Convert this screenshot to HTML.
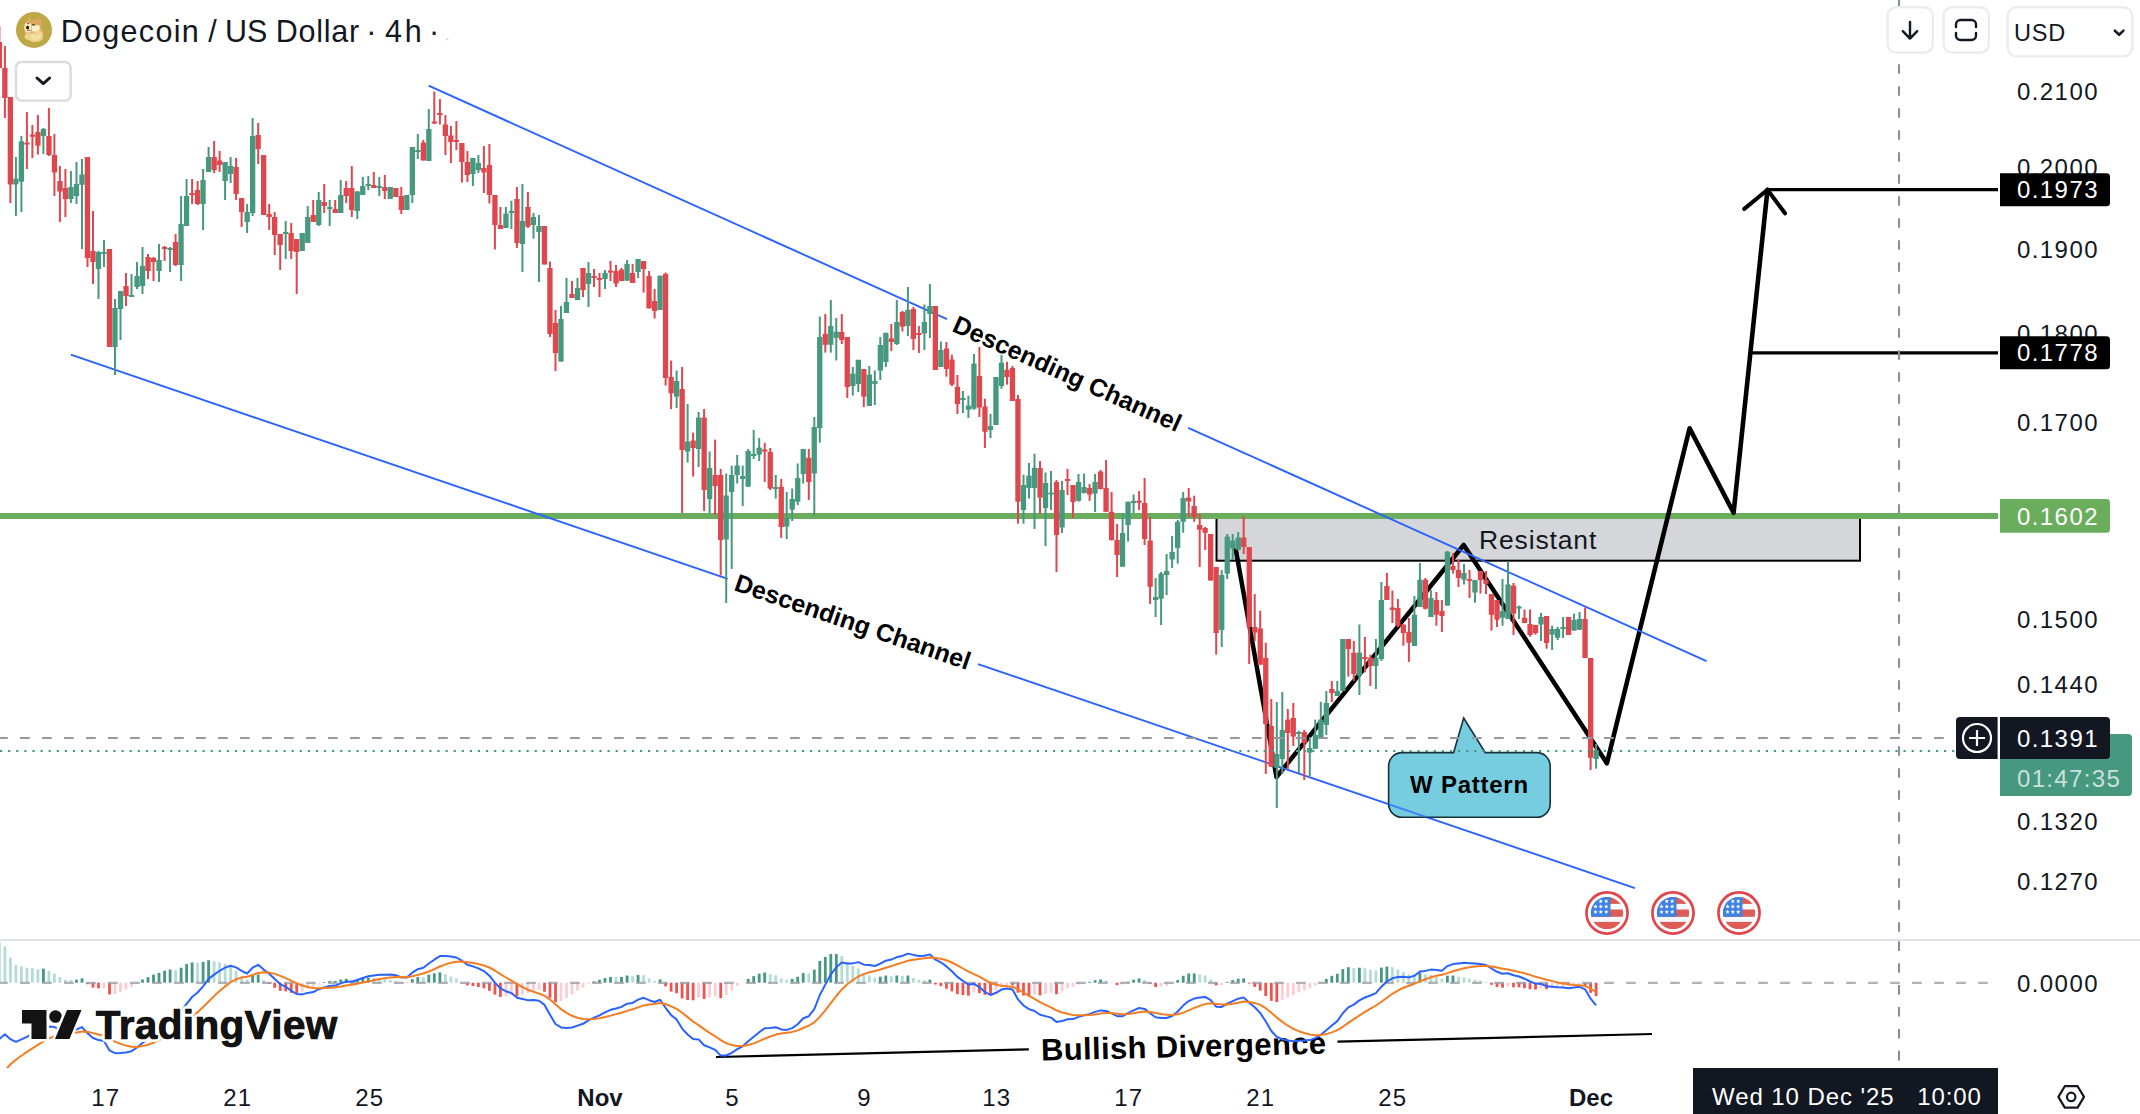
<!DOCTYPE html>
<html><head><meta charset="utf-8"><title>Dogecoin / US Dollar</title>
<style>html,body{margin:0;padding:0;background:#fff;width:2140px;height:1114px;overflow:hidden}</style>
</head><body>
<svg width="2140" height="1114" viewBox="0 0 2140 1114" style="position:absolute;left:0;top:0;display:block" font-family="'Liberation Sans', Arial, sans-serif">
<rect width="2140" height="1114" fill="#fff"/>
<rect x="0" y="939" width="2140" height="2" fill="#e0e3eb"/>
<rect x="1216.5" y="516" width="643.5" height="44.7" fill="#d5d6d9" stroke="#000" stroke-width="2"/>
<rect x="0" y="513" width="1998" height="6" fill="#6aae5d"/>
<polyline points="1235.5,548 1276.5,777 1463.7,545 1606.9,763.3" fill="none" stroke="#000" stroke-width="4.5" stroke-linejoin="round" stroke-linecap="butt"/>
<polyline points="1606.9,763.3 1689.6,428.3 1733.6,512.8 1767.5,189.7" fill="none" stroke="#000" stroke-width="4.6" stroke-linejoin="round" stroke-linecap="round"/>
<polyline points="1744.3,208.9 1767.5,189.7 1785,213.3" fill="none" stroke="#000" stroke-width="4" stroke-linejoin="round" stroke-linecap="round"/>
<line x1="1767.5" y1="189.7" x2="1998" y2="189.7" stroke="#000" stroke-width="3.2"/>
<line x1="1749" y1="352.8" x2="1998" y2="352.8" stroke="#000" stroke-width="3.2"/>
<line x1="428.6" y1="85.7" x2="946.9" y2="319.1" stroke="#2962ff" stroke-width="1.9" />
<line x1="1188.2" y1="427.8" x2="1706.5" y2="661.2" stroke="#2962ff" stroke-width="1.9" />
<line x1="70.8" y1="354.7" x2="727.7" y2="578.8" stroke="#2962ff" stroke-width="1.9" />
<line x1="978.0" y1="664.1" x2="1634.9" y2="888.2" stroke="#2962ff" stroke-width="1.9" />
<text x="1067.5" y="373.4" transform="rotate(24.24 1067.5 373.4)" font-size="25" font-weight="bold" text-anchor="middle" letter-spacing="0" fill="#000" dominant-baseline="central">Descending Channel</text>
<text x="852.9" y="621.5" transform="rotate(18.83 852.9 621.5)" font-size="25" font-weight="bold" text-anchor="middle" letter-spacing="0" fill="#000" dominant-baseline="central">Descending Channel</text>
<path d="M1402.1,752.6 H1453.6 L1463.7,718 L1485.3,752.6 H1536.7 a13.5,13.5 0 0 1 13.5,13.5 V803.8 a13.5,13.5 0 0 1 -13.5,13.5 H1402.1 a13.5,13.5 0 0 1 -13.5,-13.5 V766.1 a13.5,13.5 0 0 1 13.5,-13.5 Z" fill="#75cddf" fill-opacity="1" stroke="#16323a" stroke-width="1.6" stroke-linejoin="miter"/>
<clipPath id="cc"><rect x="1388.6" y="752.6" width="161.6" height="64.7" rx="13.5"/></clipPath>
<line x1="70.8" y1="354.7" x2="1634.9" y2="888.2" stroke="#2962ff" stroke-opacity="0.72" stroke-width="1.9" clip-path="url(#cc)"/>
<text x="1469.5" y="793" font-size="24" font-weight="bold" text-anchor="middle" letter-spacing="0.75" fill="#000">W Pattern</text>
<text x="1479" y="548.9" font-size="26.5" letter-spacing="0.85" fill="#131722">Resistant</text>
<rect x="-1.6" y="26.0" width="2" height="42.0" fill="#de474d"/>
<rect x="-3.3" y="42.0" width="5.3" height="26.0" fill="#de474d"/>
<rect x="3.9" y="46.0" width="2" height="72.0" fill="#de474d"/>
<rect x="2.2" y="68.0" width="5.3" height="30.0" fill="#de474d"/>
<rect x="9.4" y="97.0" width="2" height="106.0" fill="#de474d"/>
<rect x="7.7" y="97.0" width="5.3" height="87.5" fill="#de474d"/>
<rect x="14.9" y="157.0" width="2" height="59.0" fill="#46987f"/>
<rect x="13.2" y="178.6" width="5.3" height="5.8" fill="#46987f"/>
<rect x="20.4" y="136.0" width="2" height="76.0" fill="#46987f"/>
<rect x="18.7" y="141.4" width="5.3" height="40.3" fill="#46987f"/>
<rect x="25.9" y="112.0" width="2" height="57.0" fill="#de474d"/>
<rect x="24.3" y="142.5" width="5.3" height="2.0" fill="#de474d"/>
<rect x="31.4" y="125.0" width="2" height="33.0" fill="#de474d"/>
<rect x="29.8" y="134.7" width="5.3" height="2.0" fill="#de474d"/>
<rect x="36.9" y="115.0" width="2" height="39.5" fill="#de474d"/>
<rect x="35.3" y="132.0" width="5.3" height="13.6" fill="#de474d"/>
<rect x="42.4" y="128.0" width="2" height="26.0" fill="#46987f"/>
<rect x="40.8" y="129.0" width="5.3" height="7.0" fill="#46987f"/>
<rect x="47.9" y="108.0" width="2" height="48.0" fill="#de474d"/>
<rect x="46.3" y="136.0" width="5.3" height="19.0" fill="#de474d"/>
<rect x="53.4" y="134.0" width="2" height="62.0" fill="#de474d"/>
<rect x="51.8" y="155.0" width="5.3" height="17.4" fill="#de474d"/>
<rect x="58.9" y="166.0" width="2" height="56.0" fill="#de474d"/>
<rect x="57.3" y="181.0" width="5.3" height="10.6" fill="#de474d"/>
<rect x="64.4" y="169.0" width="2" height="48.0" fill="#de474d"/>
<rect x="62.8" y="188.0" width="5.3" height="11.0" fill="#de474d"/>
<rect x="69.9" y="171.0" width="2" height="32.0" fill="#46987f"/>
<rect x="68.3" y="187.0" width="5.3" height="12.0" fill="#46987f"/>
<rect x="75.5" y="162.0" width="2" height="42.0" fill="#46987f"/>
<rect x="73.8" y="184.0" width="5.3" height="12.0" fill="#46987f"/>
<rect x="81.0" y="159.0" width="2" height="90.0" fill="#46987f"/>
<rect x="79.3" y="174.5" width="5.3" height="10.3" fill="#46987f"/>
<rect x="86.5" y="157.0" width="2" height="110.0" fill="#de474d"/>
<rect x="84.8" y="157.0" width="5.3" height="101.0" fill="#de474d"/>
<rect x="92.0" y="211.0" width="2" height="73.0" fill="#de474d"/>
<rect x="90.3" y="251.0" width="5.3" height="11.0" fill="#de474d"/>
<rect x="97.5" y="251.0" width="2" height="48.0" fill="#46987f"/>
<rect x="95.8" y="252.0" width="5.3" height="17.0" fill="#46987f"/>
<rect x="103.0" y="240.0" width="2" height="27.0" fill="#46987f"/>
<rect x="101.3" y="252.0" width="5.3" height="2.0" fill="#46987f"/>
<rect x="108.5" y="249.0" width="2" height="98.0" fill="#de474d"/>
<rect x="106.8" y="249.0" width="5.3" height="98.0" fill="#de474d"/>
<rect x="114.0" y="299.0" width="2" height="76.0" fill="#46987f"/>
<rect x="112.3" y="308.0" width="5.3" height="39.0" fill="#46987f"/>
<rect x="119.5" y="291.0" width="2" height="49.0" fill="#46987f"/>
<rect x="117.9" y="291.0" width="5.3" height="18.0" fill="#46987f"/>
<rect x="125.0" y="273.0" width="2" height="33.0" fill="#de474d"/>
<rect x="123.4" y="286.0" width="5.3" height="10.0" fill="#de474d"/>
<rect x="130.5" y="274.0" width="2" height="23.0" fill="#46987f"/>
<rect x="128.9" y="295.0" width="5.3" height="2.0" fill="#46987f"/>
<rect x="136.0" y="262.0" width="2" height="27.0" fill="#46987f"/>
<rect x="134.4" y="276.0" width="5.3" height="11.0" fill="#46987f"/>
<rect x="141.5" y="247.0" width="2" height="47.0" fill="#46987f"/>
<rect x="139.9" y="266.0" width="5.3" height="20.0" fill="#46987f"/>
<rect x="147.0" y="254.0" width="2" height="25.0" fill="#de474d"/>
<rect x="145.4" y="257.0" width="5.3" height="14.0" fill="#de474d"/>
<rect x="152.5" y="257.0" width="2" height="24.0" fill="#de474d"/>
<rect x="150.9" y="258.0" width="5.3" height="4.0" fill="#de474d"/>
<rect x="158.0" y="244.0" width="2" height="38.0" fill="#46987f"/>
<rect x="156.4" y="260.0" width="5.3" height="11.0" fill="#46987f"/>
<rect x="163.6" y="246.0" width="2" height="15.0" fill="#de474d"/>
<rect x="161.9" y="247.0" width="5.3" height="2.0" fill="#de474d"/>
<rect x="169.1" y="247.0" width="2" height="25.0" fill="#46987f"/>
<rect x="167.4" y="248.0" width="5.3" height="2.0" fill="#46987f"/>
<rect x="174.6" y="234.0" width="2" height="32.0" fill="#de474d"/>
<rect x="172.9" y="242.0" width="5.3" height="23.0" fill="#de474d"/>
<rect x="180.1" y="196.0" width="2" height="85.0" fill="#46987f"/>
<rect x="178.4" y="224.0" width="5.3" height="41.0" fill="#46987f"/>
<rect x="185.6" y="179.0" width="2" height="47.0" fill="#46987f"/>
<rect x="183.9" y="196.0" width="5.3" height="30.0" fill="#46987f"/>
<rect x="191.1" y="179.0" width="2" height="25.0" fill="#de474d"/>
<rect x="189.4" y="193.0" width="5.3" height="2.0" fill="#de474d"/>
<rect x="196.6" y="181.0" width="2" height="24.0" fill="#de474d"/>
<rect x="194.9" y="190.0" width="5.3" height="14.0" fill="#de474d"/>
<rect x="202.1" y="169.0" width="2" height="61.0" fill="#46987f"/>
<rect x="200.4" y="180.0" width="5.3" height="24.0" fill="#46987f"/>
<rect x="207.6" y="147.0" width="2" height="25.0" fill="#46987f"/>
<rect x="205.9" y="157.0" width="5.3" height="15.0" fill="#46987f"/>
<rect x="213.1" y="141.0" width="2" height="32.0" fill="#de474d"/>
<rect x="211.5" y="157.0" width="5.3" height="13.0" fill="#de474d"/>
<rect x="218.6" y="151.0" width="2" height="21.0" fill="#de474d"/>
<rect x="217.0" y="160.5" width="5.3" height="4.5" fill="#de474d"/>
<rect x="224.1" y="162.0" width="2" height="38.0" fill="#46987f"/>
<rect x="222.5" y="162.0" width="5.3" height="19.0" fill="#46987f"/>
<rect x="229.6" y="157.0" width="2" height="26.0" fill="#46987f"/>
<rect x="228.0" y="166.0" width="5.3" height="8.0" fill="#46987f"/>
<rect x="235.1" y="158.0" width="2" height="42.0" fill="#de474d"/>
<rect x="233.5" y="167.0" width="5.3" height="27.0" fill="#de474d"/>
<rect x="240.6" y="198.0" width="2" height="29.0" fill="#de474d"/>
<rect x="239.0" y="198.0" width="5.3" height="14.0" fill="#de474d"/>
<rect x="246.1" y="204.0" width="2" height="29.0" fill="#46987f"/>
<rect x="244.5" y="212.0" width="5.3" height="10.0" fill="#46987f"/>
<rect x="251.6" y="118.0" width="2" height="98.0" fill="#46987f"/>
<rect x="250.0" y="136.0" width="5.3" height="77.0" fill="#46987f"/>
<rect x="257.2" y="123.0" width="2" height="41.0" fill="#de474d"/>
<rect x="255.5" y="135.0" width="5.3" height="14.0" fill="#de474d"/>
<rect x="262.7" y="155.0" width="2" height="60.0" fill="#de474d"/>
<rect x="261.0" y="155.0" width="5.3" height="60.0" fill="#de474d"/>
<rect x="268.2" y="204.0" width="2" height="26.0" fill="#de474d"/>
<rect x="266.5" y="214.0" width="5.3" height="3.0" fill="#de474d"/>
<rect x="273.7" y="212.0" width="2" height="43.0" fill="#de474d"/>
<rect x="272.0" y="217.0" width="5.3" height="18.0" fill="#de474d"/>
<rect x="279.2" y="234.0" width="2" height="36.0" fill="#de474d"/>
<rect x="277.5" y="234.0" width="5.3" height="11.0" fill="#de474d"/>
<rect x="284.7" y="221.0" width="2" height="38.0" fill="#46987f"/>
<rect x="283.0" y="232.0" width="5.3" height="2.0" fill="#46987f"/>
<rect x="290.2" y="223.0" width="2" height="36.0" fill="#de474d"/>
<rect x="288.5" y="233.0" width="5.3" height="18.0" fill="#de474d"/>
<rect x="295.7" y="239.0" width="2" height="55.0" fill="#de474d"/>
<rect x="294.0" y="239.0" width="5.3" height="13.0" fill="#de474d"/>
<rect x="301.2" y="233.0" width="2" height="18.0" fill="#46987f"/>
<rect x="299.6" y="233.0" width="5.3" height="18.0" fill="#46987f"/>
<rect x="306.7" y="206.0" width="2" height="37.0" fill="#46987f"/>
<rect x="305.1" y="217.0" width="5.3" height="26.0" fill="#46987f"/>
<rect x="312.2" y="200.0" width="2" height="22.0" fill="#de474d"/>
<rect x="310.6" y="215.0" width="5.3" height="7.0" fill="#de474d"/>
<rect x="317.7" y="192.0" width="2" height="34.0" fill="#46987f"/>
<rect x="316.1" y="200.0" width="5.3" height="25.0" fill="#46987f"/>
<rect x="323.2" y="184.0" width="2" height="29.0" fill="#de474d"/>
<rect x="321.6" y="202.0" width="5.3" height="4.0" fill="#de474d"/>
<rect x="328.7" y="200.0" width="2" height="26.0" fill="#46987f"/>
<rect x="327.1" y="207.0" width="5.3" height="2.0" fill="#46987f"/>
<rect x="334.2" y="200.0" width="2" height="13.0" fill="#de474d"/>
<rect x="332.6" y="209.0" width="5.3" height="4.0" fill="#de474d"/>
<rect x="339.7" y="180.0" width="2" height="33.0" fill="#46987f"/>
<rect x="338.1" y="195.0" width="5.3" height="18.0" fill="#46987f"/>
<rect x="345.2" y="181.0" width="2" height="22.0" fill="#de474d"/>
<rect x="343.6" y="188.0" width="5.3" height="8.0" fill="#de474d"/>
<rect x="350.8" y="166.0" width="2" height="51.0" fill="#de474d"/>
<rect x="349.1" y="188.0" width="5.3" height="22.0" fill="#de474d"/>
<rect x="356.3" y="191.0" width="2" height="28.0" fill="#46987f"/>
<rect x="354.6" y="191.5" width="5.3" height="19.5" fill="#46987f"/>
<rect x="361.8" y="177.0" width="2" height="18.0" fill="#46987f"/>
<rect x="360.1" y="186.0" width="5.3" height="9.0" fill="#46987f"/>
<rect x="367.3" y="176.0" width="2" height="14.0" fill="#46987f"/>
<rect x="365.6" y="184.0" width="5.3" height="2.0" fill="#46987f"/>
<rect x="372.8" y="172.0" width="2" height="16.0" fill="#de474d"/>
<rect x="371.1" y="185.0" width="5.3" height="3.0" fill="#de474d"/>
<rect x="378.3" y="177.0" width="2" height="19.0" fill="#46987f"/>
<rect x="376.6" y="186.0" width="5.3" height="2.0" fill="#46987f"/>
<rect x="383.8" y="175.0" width="2" height="24.0" fill="#de474d"/>
<rect x="382.1" y="187.0" width="5.3" height="4.0" fill="#de474d"/>
<rect x="389.3" y="187.0" width="2" height="12.0" fill="#46987f"/>
<rect x="387.6" y="187.0" width="5.3" height="12.0" fill="#46987f"/>
<rect x="394.8" y="188.0" width="2" height="9.0" fill="#de474d"/>
<rect x="393.2" y="188.0" width="5.3" height="9.0" fill="#de474d"/>
<rect x="400.3" y="187.0" width="2" height="27.0" fill="#de474d"/>
<rect x="398.7" y="196.0" width="5.3" height="14.0" fill="#de474d"/>
<rect x="405.8" y="195.0" width="2" height="15.0" fill="#46987f"/>
<rect x="404.2" y="195.0" width="5.3" height="15.0" fill="#46987f"/>
<rect x="411.3" y="147.0" width="2" height="56.0" fill="#46987f"/>
<rect x="409.7" y="147.0" width="5.3" height="48.0" fill="#46987f"/>
<rect x="416.8" y="134.0" width="2" height="25.0" fill="#46987f"/>
<rect x="415.2" y="150.0" width="5.3" height="2.0" fill="#46987f"/>
<rect x="422.3" y="140.0" width="2" height="20.5" fill="#de474d"/>
<rect x="420.7" y="142.6" width="5.3" height="17.9" fill="#de474d"/>
<rect x="427.8" y="109.0" width="2" height="52.0" fill="#46987f"/>
<rect x="426.2" y="129.0" width="5.3" height="32.0" fill="#46987f"/>
<rect x="433.3" y="91.5" width="2" height="32.5" fill="#de474d"/>
<rect x="431.7" y="121.5" width="5.3" height="2.0" fill="#de474d"/>
<rect x="438.9" y="99.0" width="2" height="25.5" fill="#de474d"/>
<rect x="437.2" y="113.0" width="5.3" height="2.0" fill="#de474d"/>
<rect x="444.4" y="115.0" width="2" height="40.0" fill="#de474d"/>
<rect x="442.7" y="124.5" width="5.3" height="11.5" fill="#de474d"/>
<rect x="449.9" y="126.0" width="2" height="37.0" fill="#de474d"/>
<rect x="448.2" y="135.5" width="5.3" height="6.5" fill="#de474d"/>
<rect x="455.4" y="121.0" width="2" height="29.0" fill="#de474d"/>
<rect x="453.7" y="140.0" width="5.3" height="2.0" fill="#de474d"/>
<rect x="460.9" y="143.0" width="2" height="39.6" fill="#de474d"/>
<rect x="459.2" y="143.0" width="5.3" height="19.0" fill="#de474d"/>
<rect x="466.4" y="151.0" width="2" height="31.0" fill="#de474d"/>
<rect x="464.7" y="162.0" width="5.3" height="13.0" fill="#de474d"/>
<rect x="471.9" y="158.0" width="2" height="28.0" fill="#46987f"/>
<rect x="470.2" y="158.0" width="5.3" height="16.0" fill="#46987f"/>
<rect x="477.4" y="155.0" width="2" height="18.0" fill="#46987f"/>
<rect x="475.7" y="163.0" width="5.3" height="7.0" fill="#46987f"/>
<rect x="482.9" y="146.0" width="2" height="47.0" fill="#de474d"/>
<rect x="481.2" y="168.0" width="5.3" height="4.5" fill="#de474d"/>
<rect x="488.4" y="144.0" width="2" height="59.5" fill="#de474d"/>
<rect x="486.8" y="165.0" width="5.3" height="30.0" fill="#de474d"/>
<rect x="493.9" y="195.0" width="2" height="54.5" fill="#de474d"/>
<rect x="492.3" y="195.0" width="5.3" height="30.0" fill="#de474d"/>
<rect x="499.4" y="207.0" width="2" height="22.0" fill="#de474d"/>
<rect x="497.8" y="225.0" width="5.3" height="4.0" fill="#de474d"/>
<rect x="504.9" y="207.0" width="2" height="21.0" fill="#46987f"/>
<rect x="503.3" y="213.6" width="5.3" height="14.4" fill="#46987f"/>
<rect x="510.4" y="200.7" width="2" height="28.3" fill="#46987f"/>
<rect x="508.8" y="211.0" width="5.3" height="2.0" fill="#46987f"/>
<rect x="515.9" y="187.0" width="2" height="61.0" fill="#de474d"/>
<rect x="514.3" y="199.0" width="5.3" height="44.0" fill="#de474d"/>
<rect x="521.4" y="184.0" width="2" height="88.0" fill="#46987f"/>
<rect x="519.8" y="221.0" width="5.3" height="23.0" fill="#46987f"/>
<rect x="526.9" y="192.0" width="2" height="36.0" fill="#de474d"/>
<rect x="525.3" y="207.0" width="5.3" height="19.6" fill="#de474d"/>
<rect x="532.5" y="213.0" width="2" height="25.6" fill="#46987f"/>
<rect x="530.8" y="217.0" width="5.3" height="8.0" fill="#46987f"/>
<rect x="538.0" y="215.0" width="2" height="67.0" fill="#46987f"/>
<rect x="536.3" y="226.0" width="5.3" height="6.0" fill="#46987f"/>
<rect x="543.5" y="226.0" width="2" height="38.5" fill="#de474d"/>
<rect x="541.8" y="226.0" width="5.3" height="38.5" fill="#de474d"/>
<rect x="549.0" y="261.6" width="2" height="75.4" fill="#de474d"/>
<rect x="547.3" y="268.0" width="5.3" height="66.0" fill="#de474d"/>
<rect x="554.5" y="310.0" width="2" height="61.0" fill="#de474d"/>
<rect x="552.8" y="323.0" width="5.3" height="30.0" fill="#de474d"/>
<rect x="560.0" y="306.0" width="2" height="55.6" fill="#46987f"/>
<rect x="558.3" y="319.0" width="5.3" height="42.6" fill="#46987f"/>
<rect x="565.5" y="278.0" width="2" height="35.0" fill="#46987f"/>
<rect x="563.8" y="302.0" width="5.3" height="11.0" fill="#46987f"/>
<rect x="571.0" y="281.0" width="2" height="17.0" fill="#de474d"/>
<rect x="569.3" y="294.0" width="5.3" height="4.0" fill="#de474d"/>
<rect x="576.5" y="278.0" width="2" height="22.0" fill="#46987f"/>
<rect x="574.9" y="288.0" width="5.3" height="12.0" fill="#46987f"/>
<rect x="582.0" y="268.0" width="2" height="29.0" fill="#de474d"/>
<rect x="580.4" y="268.0" width="5.3" height="22.0" fill="#de474d"/>
<rect x="587.5" y="262.0" width="2" height="45.0" fill="#46987f"/>
<rect x="585.9" y="273.0" width="5.3" height="11.0" fill="#46987f"/>
<rect x="593.0" y="269.0" width="2" height="18.0" fill="#de474d"/>
<rect x="591.4" y="276.0" width="5.3" height="2.0" fill="#de474d"/>
<rect x="598.5" y="273.0" width="2" height="24.0" fill="#de474d"/>
<rect x="596.9" y="278.0" width="5.3" height="2.0" fill="#de474d"/>
<rect x="604.0" y="270.0" width="2" height="19.0" fill="#46987f"/>
<rect x="602.4" y="273.0" width="5.3" height="6.0" fill="#46987f"/>
<rect x="609.5" y="261.0" width="2" height="20.0" fill="#de474d"/>
<rect x="607.9" y="270.6" width="5.3" height="2.0" fill="#de474d"/>
<rect x="615.0" y="265.0" width="2" height="22.0" fill="#de474d"/>
<rect x="613.4" y="271.0" width="5.3" height="12.5" fill="#de474d"/>
<rect x="620.5" y="268.0" width="2" height="13.0" fill="#de474d"/>
<rect x="618.9" y="269.6" width="5.3" height="11.4" fill="#de474d"/>
<rect x="626.1" y="260.0" width="2" height="21.0" fill="#46987f"/>
<rect x="624.4" y="264.0" width="5.3" height="16.6" fill="#46987f"/>
<rect x="631.6" y="264.0" width="2" height="19.0" fill="#de474d"/>
<rect x="629.9" y="273.0" width="5.3" height="10.0" fill="#de474d"/>
<rect x="637.1" y="259.0" width="2" height="19.0" fill="#46987f"/>
<rect x="635.4" y="259.0" width="5.3" height="13.0" fill="#46987f"/>
<rect x="642.6" y="261.0" width="2" height="31.6" fill="#de474d"/>
<rect x="640.9" y="261.0" width="5.3" height="8.0" fill="#de474d"/>
<rect x="648.1" y="271.0" width="2" height="37.4" fill="#de474d"/>
<rect x="646.4" y="276.0" width="5.3" height="32.4" fill="#de474d"/>
<rect x="653.6" y="289.0" width="2" height="29.5" fill="#de474d"/>
<rect x="651.9" y="301.0" width="5.3" height="10.0" fill="#de474d"/>
<rect x="659.1" y="275.7" width="2" height="34.3" fill="#46987f"/>
<rect x="657.4" y="275.7" width="5.3" height="34.3" fill="#46987f"/>
<rect x="664.6" y="272.5" width="2" height="113.1" fill="#de474d"/>
<rect x="662.9" y="274.0" width="5.3" height="104.0" fill="#de474d"/>
<rect x="670.1" y="360.5" width="2" height="48.5" fill="#de474d"/>
<rect x="668.5" y="377.0" width="5.3" height="16.4" fill="#de474d"/>
<rect x="675.6" y="370.5" width="2" height="37.5" fill="#46987f"/>
<rect x="674.0" y="381.0" width="5.3" height="15.6" fill="#46987f"/>
<rect x="681.1" y="367.0" width="2" height="146.0" fill="#de474d"/>
<rect x="679.5" y="389.0" width="5.3" height="61.0" fill="#de474d"/>
<rect x="686.6" y="404.0" width="2" height="58.5" fill="#46987f"/>
<rect x="685.0" y="441.5" width="5.3" height="10.0" fill="#46987f"/>
<rect x="692.1" y="432.7" width="2" height="43.9" fill="#de474d"/>
<rect x="690.5" y="440.5" width="5.3" height="7.5" fill="#de474d"/>
<rect x="697.6" y="412.0" width="2" height="55.0" fill="#46987f"/>
<rect x="696.0" y="417.6" width="5.3" height="31.4" fill="#46987f"/>
<rect x="703.1" y="409.0" width="2" height="102.0" fill="#de474d"/>
<rect x="701.5" y="417.6" width="5.3" height="72.4" fill="#de474d"/>
<rect x="708.6" y="451.5" width="2" height="61.5" fill="#46987f"/>
<rect x="707.0" y="468.0" width="5.3" height="31.0" fill="#46987f"/>
<rect x="714.1" y="439.6" width="2" height="75.4" fill="#de474d"/>
<rect x="712.5" y="475.0" width="5.3" height="11.0" fill="#de474d"/>
<rect x="719.7" y="469.0" width="2" height="106.5" fill="#de474d"/>
<rect x="718.0" y="475.0" width="5.3" height="65.0" fill="#de474d"/>
<rect x="725.2" y="473.5" width="2" height="129.5" fill="#46987f"/>
<rect x="723.5" y="495.5" width="5.3" height="43.9" fill="#46987f"/>
<rect x="730.7" y="465.6" width="2" height="103.4" fill="#46987f"/>
<rect x="729.0" y="475.0" width="5.3" height="17.0" fill="#46987f"/>
<rect x="736.2" y="455.0" width="2" height="28.5" fill="#46987f"/>
<rect x="734.5" y="465.6" width="5.3" height="9.4" fill="#46987f"/>
<rect x="741.7" y="465.6" width="2" height="40.4" fill="#46987f"/>
<rect x="740.0" y="476.0" width="5.3" height="3.0" fill="#46987f"/>
<rect x="747.2" y="449.0" width="2" height="37.7" fill="#46987f"/>
<rect x="745.5" y="451.0" width="5.3" height="35.7" fill="#46987f"/>
<rect x="752.7" y="430.0" width="2" height="29.0" fill="#46987f"/>
<rect x="751.0" y="454.0" width="5.3" height="2.0" fill="#46987f"/>
<rect x="758.2" y="438.0" width="2" height="23.0" fill="#46987f"/>
<rect x="756.5" y="447.7" width="5.3" height="6.9" fill="#46987f"/>
<rect x="763.7" y="442.7" width="2" height="39.3" fill="#de474d"/>
<rect x="762.1" y="449.5" width="5.3" height="2.0" fill="#de474d"/>
<rect x="769.2" y="448.0" width="2" height="42.0" fill="#de474d"/>
<rect x="767.6" y="452.0" width="5.3" height="36.5" fill="#de474d"/>
<rect x="774.7" y="475.0" width="2" height="23.6" fill="#46987f"/>
<rect x="773.1" y="487.0" width="5.3" height="2.0" fill="#46987f"/>
<rect x="780.2" y="479.0" width="2" height="59.0" fill="#de474d"/>
<rect x="778.6" y="486.7" width="5.3" height="40.3" fill="#de474d"/>
<rect x="785.7" y="492.0" width="2" height="47.0" fill="#46987f"/>
<rect x="784.1" y="518.0" width="5.3" height="8.5" fill="#46987f"/>
<rect x="791.2" y="488.5" width="2" height="32.5" fill="#46987f"/>
<rect x="789.6" y="499.0" width="5.3" height="10.6" fill="#46987f"/>
<rect x="796.7" y="463.5" width="2" height="41.5" fill="#46987f"/>
<rect x="795.1" y="478.0" width="5.3" height="23.7" fill="#46987f"/>
<rect x="802.2" y="449.0" width="2" height="34.5" fill="#46987f"/>
<rect x="800.6" y="449.0" width="5.3" height="25.0" fill="#46987f"/>
<rect x="807.8" y="449.0" width="2" height="51.0" fill="#de474d"/>
<rect x="806.1" y="457.8" width="5.3" height="24.2" fill="#de474d"/>
<rect x="813.3" y="417.0" width="2" height="99.0" fill="#46987f"/>
<rect x="811.6" y="427.0" width="5.3" height="46.5" fill="#46987f"/>
<rect x="818.8" y="316.5" width="2" height="126.2" fill="#46987f"/>
<rect x="817.1" y="337.0" width="5.3" height="91.0" fill="#46987f"/>
<rect x="824.3" y="314.0" width="2" height="38.6" fill="#de474d"/>
<rect x="822.6" y="333.8" width="5.3" height="11.0" fill="#de474d"/>
<rect x="829.8" y="300.0" width="2" height="52.6" fill="#46987f"/>
<rect x="828.1" y="326.0" width="5.3" height="18.8" fill="#46987f"/>
<rect x="835.3" y="318.0" width="2" height="42.5" fill="#46987f"/>
<rect x="833.6" y="331.6" width="5.3" height="6.3" fill="#46987f"/>
<rect x="840.8" y="314.0" width="2" height="30.0" fill="#de474d"/>
<rect x="839.1" y="332.0" width="5.3" height="8.0" fill="#de474d"/>
<rect x="846.3" y="337.0" width="2" height="61.0" fill="#de474d"/>
<rect x="844.6" y="337.0" width="5.3" height="50.0" fill="#de474d"/>
<rect x="851.8" y="367.0" width="2" height="28.6" fill="#46987f"/>
<rect x="850.2" y="373.7" width="5.3" height="12.3" fill="#46987f"/>
<rect x="857.3" y="359.8" width="2" height="32.2" fill="#46987f"/>
<rect x="855.7" y="359.8" width="5.3" height="24.2" fill="#46987f"/>
<rect x="862.8" y="369.0" width="2" height="38.0" fill="#de474d"/>
<rect x="861.2" y="369.0" width="5.3" height="27.6" fill="#de474d"/>
<rect x="868.3" y="366.0" width="2" height="40.0" fill="#46987f"/>
<rect x="866.7" y="374.6" width="5.3" height="31.4" fill="#46987f"/>
<rect x="873.8" y="370.5" width="2" height="34.5" fill="#46987f"/>
<rect x="872.2" y="381.0" width="5.3" height="3.0" fill="#46987f"/>
<rect x="879.3" y="337.0" width="2" height="43.0" fill="#46987f"/>
<rect x="877.7" y="345.0" width="5.3" height="25.5" fill="#46987f"/>
<rect x="884.8" y="332.8" width="2" height="34.2" fill="#46987f"/>
<rect x="883.2" y="332.8" width="5.3" height="29.2" fill="#46987f"/>
<rect x="890.3" y="324.0" width="2" height="27.0" fill="#de474d"/>
<rect x="888.7" y="338.5" width="5.3" height="3.5" fill="#de474d"/>
<rect x="895.8" y="300.0" width="2" height="45.0" fill="#46987f"/>
<rect x="894.2" y="322.0" width="5.3" height="22.0" fill="#46987f"/>
<rect x="901.4" y="311.0" width="2" height="20.6" fill="#de474d"/>
<rect x="899.7" y="312.0" width="5.3" height="14.6" fill="#de474d"/>
<rect x="906.9" y="287.0" width="2" height="49.0" fill="#46987f"/>
<rect x="905.2" y="310.0" width="5.3" height="16.0" fill="#46987f"/>
<rect x="912.4" y="307.0" width="2" height="43.0" fill="#de474d"/>
<rect x="910.7" y="309.0" width="5.3" height="30.0" fill="#de474d"/>
<rect x="917.9" y="326.0" width="2" height="27.0" fill="#de474d"/>
<rect x="916.2" y="333.0" width="5.3" height="2.0" fill="#de474d"/>
<rect x="923.4" y="304.5" width="2" height="45.5" fill="#46987f"/>
<rect x="921.7" y="322.0" width="5.3" height="11.4" fill="#46987f"/>
<rect x="928.9" y="284.0" width="2" height="54.0" fill="#46987f"/>
<rect x="927.2" y="306.0" width="5.3" height="8.0" fill="#46987f"/>
<rect x="934.4" y="306.0" width="2" height="64.0" fill="#de474d"/>
<rect x="932.7" y="306.0" width="5.3" height="64.0" fill="#de474d"/>
<rect x="939.9" y="341.6" width="2" height="25.4" fill="#46987f"/>
<rect x="938.2" y="350.0" width="5.3" height="17.0" fill="#46987f"/>
<rect x="945.4" y="342.0" width="2" height="34.7" fill="#de474d"/>
<rect x="943.8" y="348.5" width="5.3" height="20.5" fill="#de474d"/>
<rect x="950.9" y="354.8" width="2" height="31.2" fill="#de474d"/>
<rect x="949.3" y="359.5" width="5.3" height="25.1" fill="#de474d"/>
<rect x="956.4" y="375.0" width="2" height="39.0" fill="#de474d"/>
<rect x="954.8" y="386.8" width="5.3" height="17.2" fill="#de474d"/>
<rect x="961.9" y="391.0" width="2" height="22.0" fill="#46987f"/>
<rect x="960.3" y="398.0" width="5.3" height="2.0" fill="#46987f"/>
<rect x="967.4" y="395.6" width="2" height="22.4" fill="#46987f"/>
<rect x="965.8" y="405.6" width="5.3" height="4.1" fill="#46987f"/>
<rect x="972.9" y="354.0" width="2" height="55.7" fill="#46987f"/>
<rect x="971.3" y="363.5" width="5.3" height="45.3" fill="#46987f"/>
<rect x="978.4" y="347.0" width="2" height="70.0" fill="#de474d"/>
<rect x="976.8" y="376.0" width="5.3" height="31.5" fill="#de474d"/>
<rect x="983.9" y="398.7" width="2" height="49.3" fill="#de474d"/>
<rect x="982.3" y="406.6" width="5.3" height="25.1" fill="#de474d"/>
<rect x="989.5" y="413.8" width="2" height="24.2" fill="#46987f"/>
<rect x="987.8" y="426.0" width="5.3" height="4.0" fill="#46987f"/>
<rect x="995.0" y="377.0" width="2" height="48.0" fill="#46987f"/>
<rect x="993.3" y="377.0" width="5.3" height="48.0" fill="#46987f"/>
<rect x="1000.5" y="355.0" width="2" height="33.7" fill="#46987f"/>
<rect x="998.8" y="362.6" width="5.3" height="23.4" fill="#46987f"/>
<rect x="1006.0" y="361.7" width="2" height="22.9" fill="#de474d"/>
<rect x="1004.3" y="369.8" width="5.3" height="7.2" fill="#de474d"/>
<rect x="1011.5" y="366.0" width="2" height="35.0" fill="#de474d"/>
<rect x="1009.8" y="368.0" width="5.3" height="33.0" fill="#de474d"/>
<rect x="1017.0" y="395.0" width="2" height="128.7" fill="#de474d"/>
<rect x="1015.3" y="399.0" width="5.3" height="102.7" fill="#de474d"/>
<rect x="1022.5" y="474.7" width="2" height="49.0" fill="#46987f"/>
<rect x="1020.8" y="485.0" width="5.3" height="25.0" fill="#46987f"/>
<rect x="1028.0" y="463.0" width="2" height="35.6" fill="#46987f"/>
<rect x="1026.3" y="475.6" width="5.3" height="12.4" fill="#46987f"/>
<rect x="1033.5" y="453.7" width="2" height="75.3" fill="#46987f"/>
<rect x="1031.8" y="467.8" width="5.3" height="20.2" fill="#46987f"/>
<rect x="1039.0" y="461.0" width="2" height="53.0" fill="#de474d"/>
<rect x="1037.4" y="468.0" width="5.3" height="29.6" fill="#de474d"/>
<rect x="1044.5" y="472.5" width="2" height="73.5" fill="#46987f"/>
<rect x="1042.9" y="483.0" width="5.3" height="25.0" fill="#46987f"/>
<rect x="1050.0" y="471.0" width="2" height="39.0" fill="#46987f"/>
<rect x="1048.4" y="492.5" width="5.3" height="2.0" fill="#46987f"/>
<rect x="1055.5" y="480.0" width="2" height="92.0" fill="#de474d"/>
<rect x="1053.9" y="482.0" width="5.3" height="53.0" fill="#de474d"/>
<rect x="1061.0" y="481.0" width="2" height="52.0" fill="#46987f"/>
<rect x="1059.4" y="490.0" width="5.3" height="37.5" fill="#46987f"/>
<rect x="1066.5" y="469.0" width="2" height="26.0" fill="#de474d"/>
<rect x="1064.9" y="479.0" width="5.3" height="2.0" fill="#de474d"/>
<rect x="1072.0" y="485.0" width="2" height="33.0" fill="#de474d"/>
<rect x="1070.4" y="485.0" width="5.3" height="17.0" fill="#de474d"/>
<rect x="1077.5" y="474.0" width="2" height="27.7" fill="#46987f"/>
<rect x="1075.9" y="482.0" width="5.3" height="18.8" fill="#46987f"/>
<rect x="1083.1" y="473.5" width="2" height="20.0" fill="#46987f"/>
<rect x="1081.4" y="487.0" width="5.3" height="6.0" fill="#46987f"/>
<rect x="1088.6" y="484.0" width="2" height="16.8" fill="#de474d"/>
<rect x="1086.9" y="488.0" width="5.3" height="6.5" fill="#de474d"/>
<rect x="1094.1" y="474.0" width="2" height="38.0" fill="#46987f"/>
<rect x="1092.4" y="482.0" width="5.3" height="11.5" fill="#46987f"/>
<rect x="1099.6" y="470.0" width="2" height="19.5" fill="#de474d"/>
<rect x="1097.9" y="471.6" width="5.3" height="17.4" fill="#de474d"/>
<rect x="1105.1" y="460.0" width="2" height="52.0" fill="#de474d"/>
<rect x="1103.4" y="488.0" width="5.3" height="23.8" fill="#de474d"/>
<rect x="1110.6" y="492.0" width="2" height="48.6" fill="#de474d"/>
<rect x="1108.9" y="511.8" width="5.3" height="28.2" fill="#de474d"/>
<rect x="1116.1" y="524.0" width="2" height="53.0" fill="#de474d"/>
<rect x="1114.4" y="540.0" width="5.3" height="15.0" fill="#de474d"/>
<rect x="1121.6" y="513.0" width="2" height="53.7" fill="#46987f"/>
<rect x="1119.9" y="533.0" width="5.3" height="33.7" fill="#46987f"/>
<rect x="1127.1" y="501.7" width="2" height="39.9" fill="#46987f"/>
<rect x="1125.4" y="501.7" width="5.3" height="23.3" fill="#46987f"/>
<rect x="1132.6" y="494.5" width="2" height="18.5" fill="#46987f"/>
<rect x="1131.0" y="501.0" width="5.3" height="2.0" fill="#46987f"/>
<rect x="1138.1" y="491.0" width="2" height="19.0" fill="#de474d"/>
<rect x="1136.5" y="500.7" width="5.3" height="2.0" fill="#de474d"/>
<rect x="1143.6" y="478.0" width="2" height="67.0" fill="#de474d"/>
<rect x="1142.0" y="503.0" width="5.3" height="36.0" fill="#de474d"/>
<rect x="1149.1" y="517.0" width="2" height="87.0" fill="#de474d"/>
<rect x="1147.5" y="540.6" width="5.3" height="46.2" fill="#de474d"/>
<rect x="1154.6" y="578.0" width="2" height="39.0" fill="#46987f"/>
<rect x="1153.0" y="597.0" width="5.3" height="3.0" fill="#46987f"/>
<rect x="1160.1" y="572.0" width="2" height="53.0" fill="#46987f"/>
<rect x="1158.5" y="573.6" width="5.3" height="25.1" fill="#46987f"/>
<rect x="1165.6" y="554.0" width="2" height="41.0" fill="#46987f"/>
<rect x="1164.0" y="571.0" width="5.3" height="4.0" fill="#46987f"/>
<rect x="1171.1" y="536.0" width="2" height="32.0" fill="#46987f"/>
<rect x="1169.5" y="552.0" width="5.3" height="7.5" fill="#46987f"/>
<rect x="1176.7" y="520.0" width="2" height="43.6" fill="#46987f"/>
<rect x="1175.0" y="521.8" width="5.3" height="26.1" fill="#46987f"/>
<rect x="1182.2" y="492.0" width="2" height="40.8" fill="#46987f"/>
<rect x="1180.5" y="498.0" width="5.3" height="23.8" fill="#46987f"/>
<rect x="1187.7" y="488.0" width="2" height="29.0" fill="#de474d"/>
<rect x="1186.0" y="497.6" width="5.3" height="3.8" fill="#de474d"/>
<rect x="1193.2" y="495.7" width="2" height="26.1" fill="#de474d"/>
<rect x="1191.5" y="506.0" width="5.3" height="11.0" fill="#de474d"/>
<rect x="1198.7" y="514.0" width="2" height="53.0" fill="#de474d"/>
<rect x="1197.0" y="525.0" width="5.3" height="4.7" fill="#de474d"/>
<rect x="1204.2" y="527.0" width="2" height="23.0" fill="#de474d"/>
<rect x="1202.5" y="528.0" width="5.3" height="4.8" fill="#de474d"/>
<rect x="1209.7" y="534.0" width="2" height="46.5" fill="#de474d"/>
<rect x="1208.0" y="534.0" width="5.3" height="46.5" fill="#de474d"/>
<rect x="1215.2" y="567.0" width="2" height="87.6" fill="#de474d"/>
<rect x="1213.5" y="567.0" width="5.3" height="66.0" fill="#de474d"/>
<rect x="1220.7" y="570.0" width="2" height="77.0" fill="#46987f"/>
<rect x="1219.1" y="575.0" width="5.3" height="55.0" fill="#46987f"/>
<rect x="1226.2" y="534.0" width="2" height="45.0" fill="#46987f"/>
<rect x="1224.6" y="536.6" width="5.3" height="37.0" fill="#46987f"/>
<rect x="1231.7" y="534.0" width="2" height="25.5" fill="#46987f"/>
<rect x="1230.1" y="540.6" width="5.3" height="7.9" fill="#46987f"/>
<rect x="1237.2" y="532.0" width="2" height="18.0" fill="#46987f"/>
<rect x="1235.6" y="537.5" width="5.3" height="12.5" fill="#46987f"/>
<rect x="1242.7" y="516.5" width="2" height="37.5" fill="#de474d"/>
<rect x="1241.1" y="537.5" width="5.3" height="9.5" fill="#de474d"/>
<rect x="1248.2" y="547.0" width="2" height="117.0" fill="#de474d"/>
<rect x="1246.6" y="547.0" width="5.3" height="80.0" fill="#de474d"/>
<rect x="1253.7" y="594.0" width="2" height="47.0" fill="#de474d"/>
<rect x="1252.1" y="627.0" width="5.3" height="5.6" fill="#de474d"/>
<rect x="1259.2" y="610.7" width="2" height="54.0" fill="#de474d"/>
<rect x="1257.6" y="628.5" width="5.3" height="36.2" fill="#de474d"/>
<rect x="1264.8" y="642.7" width="2" height="131.3" fill="#de474d"/>
<rect x="1263.1" y="658.0" width="5.3" height="66.0" fill="#de474d"/>
<rect x="1270.3" y="699.0" width="2" height="67.7" fill="#de474d"/>
<rect x="1268.6" y="726.0" width="5.3" height="40.7" fill="#de474d"/>
<rect x="1275.8" y="702.0" width="2" height="106.0" fill="#46987f"/>
<rect x="1274.1" y="754.0" width="5.3" height="14.0" fill="#46987f"/>
<rect x="1281.3" y="692.0" width="2" height="82.0" fill="#46987f"/>
<rect x="1279.6" y="730.0" width="5.3" height="29.0" fill="#46987f"/>
<rect x="1286.8" y="709.0" width="2" height="60.0" fill="#de474d"/>
<rect x="1285.1" y="719.6" width="5.3" height="13.4" fill="#de474d"/>
<rect x="1292.3" y="703.0" width="2" height="43.0" fill="#de474d"/>
<rect x="1290.6" y="718.0" width="5.3" height="18.6" fill="#de474d"/>
<rect x="1297.8" y="730.6" width="2" height="42.4" fill="#46987f"/>
<rect x="1296.1" y="732.0" width="5.3" height="2.0" fill="#46987f"/>
<rect x="1303.3" y="730.0" width="2" height="50.0" fill="#de474d"/>
<rect x="1301.6" y="732.0" width="5.3" height="11.0" fill="#de474d"/>
<rect x="1308.8" y="737.0" width="2" height="39.0" fill="#46987f"/>
<rect x="1307.1" y="748.0" width="5.3" height="4.6" fill="#46987f"/>
<rect x="1314.3" y="719.6" width="2" height="29.2" fill="#46987f"/>
<rect x="1312.7" y="735.0" width="5.3" height="13.8" fill="#46987f"/>
<rect x="1319.8" y="701.7" width="2" height="37.3" fill="#46987f"/>
<rect x="1318.2" y="719.6" width="5.3" height="19.4" fill="#46987f"/>
<rect x="1325.3" y="691.0" width="2" height="44.0" fill="#46987f"/>
<rect x="1323.7" y="703.0" width="5.3" height="22.0" fill="#46987f"/>
<rect x="1330.8" y="681.0" width="2" height="21.0" fill="#de474d"/>
<rect x="1329.2" y="689.0" width="5.3" height="4.0" fill="#de474d"/>
<rect x="1336.3" y="681.0" width="2" height="15.0" fill="#46987f"/>
<rect x="1334.7" y="691.0" width="5.3" height="5.0" fill="#46987f"/>
<rect x="1341.8" y="639.0" width="2" height="52.0" fill="#46987f"/>
<rect x="1340.2" y="639.0" width="5.3" height="52.0" fill="#46987f"/>
<rect x="1347.3" y="639.0" width="2" height="37.6" fill="#de474d"/>
<rect x="1345.7" y="639.0" width="5.3" height="10.0" fill="#de474d"/>
<rect x="1352.8" y="641.0" width="2" height="40.0" fill="#de474d"/>
<rect x="1351.2" y="652.7" width="5.3" height="21.3" fill="#de474d"/>
<rect x="1358.4" y="624.5" width="2" height="70.5" fill="#46987f"/>
<rect x="1356.7" y="652.7" width="5.3" height="22.9" fill="#46987f"/>
<rect x="1363.9" y="637.0" width="2" height="35.5" fill="#de474d"/>
<rect x="1362.2" y="657.0" width="5.3" height="2.0" fill="#de474d"/>
<rect x="1369.4" y="654.6" width="2" height="31.4" fill="#de474d"/>
<rect x="1367.7" y="657.7" width="5.3" height="8.3" fill="#de474d"/>
<rect x="1374.9" y="639.0" width="2" height="50.0" fill="#46987f"/>
<rect x="1373.2" y="657.7" width="5.3" height="8.3" fill="#46987f"/>
<rect x="1380.4" y="582.0" width="2" height="79.0" fill="#46987f"/>
<rect x="1378.7" y="600.0" width="5.3" height="59.0" fill="#46987f"/>
<rect x="1385.9" y="573.0" width="2" height="27.0" fill="#de474d"/>
<rect x="1384.2" y="586.0" width="5.3" height="14.0" fill="#de474d"/>
<rect x="1391.4" y="590.6" width="2" height="32.4" fill="#de474d"/>
<rect x="1389.7" y="607.5" width="5.3" height="2.5" fill="#de474d"/>
<rect x="1396.9" y="599.0" width="2" height="28.0" fill="#de474d"/>
<rect x="1395.2" y="608.0" width="5.3" height="17.7" fill="#de474d"/>
<rect x="1402.4" y="624.5" width="2" height="21.3" fill="#de474d"/>
<rect x="1400.7" y="624.5" width="5.3" height="8.5" fill="#de474d"/>
<rect x="1407.9" y="618.0" width="2" height="44.0" fill="#de474d"/>
<rect x="1406.3" y="631.8" width="5.3" height="10.9" fill="#de474d"/>
<rect x="1413.4" y="596.0" width="2" height="50.0" fill="#46987f"/>
<rect x="1411.8" y="614.8" width="5.3" height="31.2" fill="#46987f"/>
<rect x="1418.9" y="563.0" width="2" height="44.0" fill="#46987f"/>
<rect x="1417.3" y="579.7" width="5.3" height="27.3" fill="#46987f"/>
<rect x="1424.4" y="578.0" width="2" height="31.5" fill="#de474d"/>
<rect x="1422.8" y="579.7" width="5.3" height="29.0" fill="#de474d"/>
<rect x="1429.9" y="590.0" width="2" height="27.0" fill="#46987f"/>
<rect x="1428.3" y="598.0" width="5.3" height="19.0" fill="#46987f"/>
<rect x="1435.4" y="592.0" width="2" height="33.7" fill="#de474d"/>
<rect x="1433.8" y="600.0" width="5.3" height="14.8" fill="#de474d"/>
<rect x="1440.9" y="600.0" width="2" height="32.0" fill="#de474d"/>
<rect x="1439.3" y="611.0" width="5.3" height="5.0" fill="#de474d"/>
<rect x="1446.4" y="551.0" width="2" height="54.6" fill="#46987f"/>
<rect x="1444.8" y="551.8" width="5.3" height="53.8" fill="#46987f"/>
<rect x="1452.0" y="553.0" width="2" height="20.6" fill="#de474d"/>
<rect x="1450.3" y="566.0" width="5.3" height="4.0" fill="#de474d"/>
<rect x="1457.5" y="559.6" width="2" height="27.4" fill="#de474d"/>
<rect x="1455.8" y="570.0" width="5.3" height="8.0" fill="#de474d"/>
<rect x="1463.0" y="564.0" width="2" height="20.5" fill="#46987f"/>
<rect x="1461.3" y="573.0" width="5.3" height="6.7" fill="#46987f"/>
<rect x="1468.5" y="570.0" width="2" height="28.0" fill="#de474d"/>
<rect x="1466.8" y="579.0" width="5.3" height="2.0" fill="#de474d"/>
<rect x="1474.0" y="580.0" width="2" height="22.7" fill="#46987f"/>
<rect x="1472.3" y="580.0" width="5.3" height="12.5" fill="#46987f"/>
<rect x="1479.5" y="571.0" width="2" height="22.5" fill="#de474d"/>
<rect x="1477.8" y="571.0" width="5.3" height="9.0" fill="#de474d"/>
<rect x="1485.0" y="571.0" width="2" height="23.0" fill="#de474d"/>
<rect x="1483.3" y="580.0" width="5.3" height="3.8" fill="#de474d"/>
<rect x="1490.5" y="594.0" width="2" height="36.6" fill="#de474d"/>
<rect x="1488.8" y="594.0" width="5.3" height="20.8" fill="#de474d"/>
<rect x="1496.0" y="600.0" width="2" height="27.0" fill="#de474d"/>
<rect x="1494.4" y="600.0" width="5.3" height="19.7" fill="#de474d"/>
<rect x="1501.5" y="579.0" width="2" height="46.7" fill="#46987f"/>
<rect x="1499.9" y="611.0" width="5.3" height="6.7" fill="#46987f"/>
<rect x="1507.0" y="561.5" width="2" height="57.5" fill="#46987f"/>
<rect x="1505.4" y="584.5" width="5.3" height="34.5" fill="#46987f"/>
<rect x="1512.5" y="583.0" width="2" height="52.0" fill="#de474d"/>
<rect x="1510.9" y="585.7" width="5.3" height="27.9" fill="#de474d"/>
<rect x="1518.0" y="605.6" width="2" height="13.4" fill="#46987f"/>
<rect x="1516.4" y="606.5" width="5.3" height="2.0" fill="#46987f"/>
<rect x="1523.5" y="609.5" width="2" height="13.5" fill="#de474d"/>
<rect x="1521.9" y="617.7" width="5.3" height="5.3" fill="#de474d"/>
<rect x="1529.0" y="609.5" width="2" height="27.1" fill="#de474d"/>
<rect x="1527.4" y="624.0" width="5.3" height="11.0" fill="#de474d"/>
<rect x="1534.5" y="625.0" width="2" height="9.7" fill="#de474d"/>
<rect x="1532.9" y="625.0" width="5.3" height="8.0" fill="#de474d"/>
<rect x="1540.0" y="612.9" width="2" height="28.1" fill="#46987f"/>
<rect x="1538.4" y="617.0" width="5.3" height="7.5" fill="#46987f"/>
<rect x="1545.6" y="616.0" width="2" height="32.7" fill="#de474d"/>
<rect x="1543.9" y="616.0" width="5.3" height="27.0" fill="#de474d"/>
<rect x="1551.1" y="625.7" width="2" height="24.3" fill="#46987f"/>
<rect x="1549.4" y="628.9" width="5.3" height="5.8" fill="#46987f"/>
<rect x="1556.6" y="627.0" width="2" height="13.0" fill="#46987f"/>
<rect x="1554.9" y="628.9" width="5.3" height="8.9" fill="#46987f"/>
<rect x="1562.1" y="617.0" width="2" height="21.0" fill="#46987f"/>
<rect x="1560.4" y="627.0" width="5.3" height="2.0" fill="#46987f"/>
<rect x="1567.6" y="617.0" width="2" height="18.0" fill="#de474d"/>
<rect x="1565.9" y="617.0" width="5.3" height="18.0" fill="#de474d"/>
<rect x="1573.1" y="613.6" width="2" height="17.0" fill="#46987f"/>
<rect x="1571.4" y="620.0" width="5.3" height="10.6" fill="#46987f"/>
<rect x="1578.6" y="612.0" width="2" height="17.8" fill="#46987f"/>
<rect x="1576.9" y="619.0" width="5.3" height="10.8" fill="#46987f"/>
<rect x="1584.1" y="607.5" width="2" height="50.5" fill="#de474d"/>
<rect x="1582.4" y="619.0" width="5.3" height="39.0" fill="#de474d"/>
<rect x="1589.6" y="658.0" width="2" height="112.0" fill="#de474d"/>
<rect x="1588.0" y="658.0" width="5.3" height="99.8" fill="#de474d"/>
<rect x="1595.1" y="744.0" width="2" height="24.7" fill="#46987f"/>
<rect x="1593.5" y="750.0" width="5.3" height="9.0" fill="#46987f"/>
<line x1="1899" y1="-1.8" x2="1899" y2="939" stroke="#8b8e98" stroke-width="2.1" stroke-dasharray="9.6 12.4"/>
<line x1="1899" y1="941.3" x2="1899" y2="1060.5" stroke="#8b8e98" stroke-width="2.1" stroke-dasharray="9.6 12.3"/>
<line x1="-2" y1="738" x2="1956" y2="738" stroke="#9598a1" stroke-width="2.2" stroke-dasharray="9.7 12.3"/>
<line x1="0" y1="751" x2="2000" y2="751" stroke="#46987f" stroke-width="2.2" stroke-dasharray="2.2 5.9"/>
<clipPath id="mp"><rect x="0" y="941" width="2000" height="127"/></clipPath><g clip-path="url(#mp)">
<!-- divergence line + text -->
<line x1="716" y1="1057" x2="1028.8" y2="1049.3" stroke="#000" stroke-width="2.2"/>
<line x1="1337.4" y1="1041.7" x2="1652" y2="1034" stroke="#000" stroke-width="2.2"/>
<text x="1183.7" y="1046.6" transform="rotate(-1.41 1183.7 1046.6)" font-size="31" font-weight="bold" text-anchor="middle" letter-spacing="0.35" fill="#000" dominant-baseline="central">Bullish Divergence</text>


<rect x="-2.0" y="942.1" width="2.8" height="40.6" fill="#b5dcd3"/>
<rect x="3.5" y="946.4" width="2.8" height="36.3" fill="#b5dcd3"/>
<rect x="9.0" y="957.6" width="2.8" height="25.1" fill="#b5dcd3"/>
<rect x="14.5" y="964.8" width="2.8" height="17.9" fill="#b5dcd3"/>
<rect x="20.0" y="966.3" width="2.8" height="16.4" fill="#b5dcd3"/>
<rect x="25.5" y="967.7" width="2.8" height="15.0" fill="#b5dcd3"/>
<rect x="31.0" y="968.1" width="2.8" height="14.6" fill="#b5dcd3"/>
<rect x="36.5" y="969.2" width="2.8" height="13.5" fill="#b5dcd3"/>
<rect x="42.0" y="968.7" width="2.8" height="14.0" fill="#46987f"/>
<rect x="47.5" y="970.8" width="2.8" height="11.9" fill="#b5dcd3"/>
<rect x="53.0" y="973.7" width="2.8" height="9.0" fill="#b5dcd3"/>
<rect x="58.5" y="977.1" width="2.8" height="5.6" fill="#b5dcd3"/>
<rect x="64.0" y="979.7" width="2.8" height="3.0" fill="#b5dcd3"/>
<rect x="69.5" y="980.0" width="2.8" height="2.7" fill="#b5dcd3"/>
<rect x="75.1" y="979.6" width="2.8" height="3.1" fill="#46987f"/>
<rect x="80.6" y="978.3" width="2.8" height="4.4" fill="#46987f"/>
<rect x="86.1" y="982.7" width="2.8" height="1.5" fill="#ef5350"/>
<rect x="91.6" y="982.7" width="2.8" height="4.9" fill="#ef5350"/>
<rect x="97.1" y="982.7" width="2.8" height="5.6" fill="#ef5350"/>
<rect x="102.6" y="982.7" width="2.8" height="5.2" fill="#f9cdd2"/>
<rect x="108.1" y="982.7" width="2.8" height="11.7" fill="#ef5350"/>
<rect x="113.6" y="982.7" width="2.8" height="11.6" fill="#f9cdd2"/>
<rect x="119.1" y="982.7" width="2.8" height="9.1" fill="#f9cdd2"/>
<rect x="124.6" y="982.7" width="2.8" height="6.9" fill="#f9cdd2"/>
<rect x="130.1" y="982.7" width="2.8" height="4.5" fill="#f9cdd2"/>
<rect x="135.6" y="982.7" width="2.8" height="0.6" fill="#f9cdd2"/>
<rect x="141.1" y="979.5" width="2.8" height="3.2" fill="#46987f"/>
<rect x="146.6" y="977.1" width="2.8" height="5.6" fill="#46987f"/>
<rect x="152.1" y="974.6" width="2.8" height="8.1" fill="#46987f"/>
<rect x="157.6" y="972.8" width="2.8" height="9.9" fill="#46987f"/>
<rect x="163.2" y="970.7" width="2.8" height="12.0" fill="#46987f"/>
<rect x="168.7" y="969.5" width="2.8" height="13.2" fill="#46987f"/>
<rect x="174.2" y="970.3" width="2.8" height="12.4" fill="#b5dcd3"/>
<rect x="179.7" y="967.7" width="2.8" height="15.0" fill="#46987f"/>
<rect x="185.2" y="964.1" width="2.8" height="18.6" fill="#46987f"/>
<rect x="190.7" y="962.4" width="2.8" height="20.3" fill="#46987f"/>
<rect x="196.2" y="962.8" width="2.8" height="19.9" fill="#b5dcd3"/>
<rect x="201.7" y="961.9" width="2.8" height="20.8" fill="#46987f"/>
<rect x="207.2" y="960.2" width="2.8" height="22.5" fill="#46987f"/>
<rect x="212.7" y="961.2" width="2.8" height="21.5" fill="#b5dcd3"/>
<rect x="218.2" y="962.4" width="2.8" height="20.3" fill="#b5dcd3"/>
<rect x="223.7" y="963.9" width="2.8" height="18.8" fill="#b5dcd3"/>
<rect x="229.2" y="966.2" width="2.8" height="16.5" fill="#b5dcd3"/>
<rect x="234.7" y="970.8" width="2.8" height="11.9" fill="#b5dcd3"/>
<rect x="240.2" y="975.9" width="2.8" height="6.8" fill="#b5dcd3"/>
<rect x="245.7" y="979.5" width="2.8" height="3.2" fill="#b5dcd3"/>
<rect x="251.2" y="975.5" width="2.8" height="7.2" fill="#46987f"/>
<rect x="256.8" y="974.5" width="2.8" height="8.2" fill="#46987f"/>
<rect x="262.3" y="980.1" width="2.8" height="2.6" fill="#b5dcd3"/>
<rect x="267.8" y="982.7" width="2.8" height="1.2" fill="#ef5350"/>
<rect x="273.3" y="982.7" width="2.8" height="5.1" fill="#ef5350"/>
<rect x="278.8" y="982.7" width="2.8" height="8.2" fill="#ef5350"/>
<rect x="284.3" y="982.7" width="2.8" height="8.7" fill="#ef5350"/>
<rect x="289.8" y="982.7" width="2.8" height="10.2" fill="#ef5350"/>
<rect x="295.3" y="982.7" width="2.8" height="10.7" fill="#ef5350"/>
<rect x="300.8" y="982.7" width="2.8" height="8.8" fill="#f9cdd2"/>
<rect x="306.3" y="982.7" width="2.8" height="5.9" fill="#f9cdd2"/>
<rect x="311.8" y="982.7" width="2.8" height="4.1" fill="#f9cdd2"/>
<rect x="317.3" y="982.7" width="2.8" height="0.9" fill="#f9cdd2"/>
<rect x="322.8" y="982.0" width="2.8" height="0.7" fill="#46987f"/>
<rect x="328.3" y="981.1" width="2.8" height="1.6" fill="#46987f"/>
<rect x="333.8" y="981.0" width="2.8" height="1.7" fill="#46987f"/>
<rect x="339.3" y="979.5" width="2.8" height="3.2" fill="#46987f"/>
<rect x="344.8" y="978.8" width="2.8" height="3.9" fill="#46987f"/>
<rect x="350.4" y="979.7" width="2.8" height="3.0" fill="#b5dcd3"/>
<rect x="355.9" y="978.9" width="2.8" height="3.8" fill="#46987f"/>
<rect x="361.4" y="978.1" width="2.8" height="4.6" fill="#46987f"/>
<rect x="366.9" y="977.6" width="2.8" height="5.1" fill="#46987f"/>
<rect x="372.4" y="978.0" width="2.8" height="4.7" fill="#b5dcd3"/>
<rect x="377.9" y="978.3" width="2.8" height="4.4" fill="#b5dcd3"/>
<rect x="383.4" y="979.2" width="2.8" height="3.5" fill="#b5dcd3"/>
<rect x="388.9" y="979.6" width="2.8" height="3.1" fill="#b5dcd3"/>
<rect x="394.4" y="981.0" width="2.8" height="1.7" fill="#b5dcd3"/>
<rect x="399.9" y="982.7" width="2.8" height="0.3" fill="#ef5350"/>
<rect x="405.4" y="982.7" width="2.8" height="0.4" fill="#ef5350"/>
<rect x="410.9" y="979.1" width="2.8" height="3.6" fill="#46987f"/>
<rect x="416.4" y="977.1" width="2.8" height="5.6" fill="#46987f"/>
<rect x="421.9" y="977.1" width="2.8" height="5.6" fill="#b5dcd3"/>
<rect x="427.4" y="974.7" width="2.8" height="8.0" fill="#46987f"/>
<rect x="432.9" y="973.3" width="2.8" height="9.4" fill="#46987f"/>
<rect x="438.5" y="972.3" width="2.8" height="10.4" fill="#46987f"/>
<rect x="444.0" y="974.2" width="2.8" height="8.5" fill="#b5dcd3"/>
<rect x="449.5" y="976.5" width="2.8" height="6.2" fill="#b5dcd3"/>
<rect x="455.0" y="978.5" width="2.8" height="4.2" fill="#b5dcd3"/>
<rect x="460.5" y="981.8" width="2.8" height="0.9" fill="#b5dcd3"/>
<rect x="466.0" y="982.7" width="2.8" height="2.6" fill="#ef5350"/>
<rect x="471.5" y="982.7" width="2.8" height="3.3" fill="#ef5350"/>
<rect x="477.0" y="982.7" width="2.8" height="4.3" fill="#ef5350"/>
<rect x="482.5" y="982.7" width="2.8" height="5.6" fill="#ef5350"/>
<rect x="488.0" y="982.7" width="2.8" height="8.2" fill="#ef5350"/>
<rect x="493.5" y="982.7" width="2.8" height="12.0" fill="#ef5350"/>
<rect x="499.0" y="982.7" width="2.8" height="14.2" fill="#ef5350"/>
<rect x="504.5" y="982.7" width="2.8" height="13.7" fill="#f9cdd2"/>
<rect x="510.0" y="982.7" width="2.8" height="12.4" fill="#f9cdd2"/>
<rect x="515.5" y="982.7" width="2.8" height="13.7" fill="#ef5350"/>
<rect x="521.0" y="982.7" width="2.8" height="11.9" fill="#f9cdd2"/>
<rect x="526.5" y="982.7" width="2.8" height="10.6" fill="#f9cdd2"/>
<rect x="532.1" y="982.7" width="2.8" height="8.4" fill="#f9cdd2"/>
<rect x="537.6" y="982.7" width="2.8" height="7.2" fill="#f9cdd2"/>
<rect x="543.1" y="982.7" width="2.8" height="9.1" fill="#ef5350"/>
<rect x="548.6" y="982.7" width="2.8" height="15.2" fill="#ef5350"/>
<rect x="554.1" y="982.7" width="2.8" height="19.5" fill="#ef5350"/>
<rect x="559.6" y="982.7" width="2.8" height="18.3" fill="#f9cdd2"/>
<rect x="565.1" y="982.7" width="2.8" height="15.1" fill="#f9cdd2"/>
<rect x="570.6" y="982.7" width="2.8" height="11.7" fill="#f9cdd2"/>
<rect x="576.1" y="982.7" width="2.8" height="7.8" fill="#f9cdd2"/>
<rect x="581.6" y="982.7" width="2.8" height="4.9" fill="#f9cdd2"/>
<rect x="587.1" y="982.7" width="2.8" height="1.1" fill="#f9cdd2"/>
<rect x="592.6" y="981.4" width="2.8" height="1.3" fill="#46987f"/>
<rect x="598.1" y="979.8" width="2.8" height="2.9" fill="#46987f"/>
<rect x="603.6" y="978.1" width="2.8" height="4.6" fill="#46987f"/>
<rect x="609.1" y="976.9" width="2.8" height="5.8" fill="#46987f"/>
<rect x="614.6" y="977.0" width="2.8" height="5.7" fill="#b5dcd3"/>
<rect x="620.1" y="976.9" width="2.8" height="5.8" fill="#46987f"/>
<rect x="625.7" y="975.5" width="2.8" height="7.2" fill="#46987f"/>
<rect x="631.2" y="976.3" width="2.8" height="6.4" fill="#b5dcd3"/>
<rect x="636.7" y="974.9" width="2.8" height="7.8" fill="#46987f"/>
<rect x="642.2" y="975.1" width="2.8" height="7.6" fill="#b5dcd3"/>
<rect x="647.7" y="978.5" width="2.8" height="4.2" fill="#b5dcd3"/>
<rect x="653.2" y="980.8" width="2.8" height="1.9" fill="#b5dcd3"/>
<rect x="658.7" y="979.4" width="2.8" height="3.3" fill="#46987f"/>
<rect x="664.2" y="982.7" width="2.8" height="3.7" fill="#ef5350"/>
<rect x="669.7" y="982.7" width="2.8" height="8.9" fill="#ef5350"/>
<rect x="675.2" y="982.7" width="2.8" height="10.5" fill="#ef5350"/>
<rect x="680.7" y="982.7" width="2.8" height="15.7" fill="#ef5350"/>
<rect x="686.2" y="982.7" width="2.8" height="17.3" fill="#ef5350"/>
<rect x="691.7" y="982.7" width="2.8" height="17.6" fill="#ef5350"/>
<rect x="697.2" y="982.7" width="2.8" height="14.3" fill="#f9cdd2"/>
<rect x="702.7" y="982.7" width="2.8" height="16.2" fill="#ef5350"/>
<rect x="708.2" y="982.7" width="2.8" height="14.6" fill="#f9cdd2"/>
<rect x="713.8" y="982.7" width="2.8" height="13.6" fill="#f9cdd2"/>
<rect x="719.3" y="982.7" width="2.8" height="15.5" fill="#ef5350"/>
<rect x="724.8" y="982.7" width="2.8" height="12.3" fill="#f9cdd2"/>
<rect x="730.3" y="982.7" width="2.8" height="7.7" fill="#f9cdd2"/>
<rect x="735.8" y="982.7" width="2.8" height="3.2" fill="#f9cdd2"/>
<rect x="741.3" y="982.7" width="2.8" height="0.3" fill="#f9cdd2"/>
<rect x="746.8" y="978.9" width="2.8" height="3.8" fill="#46987f"/>
<rect x="752.3" y="976.1" width="2.8" height="6.6" fill="#46987f"/>
<rect x="757.8" y="973.7" width="2.8" height="9.0" fill="#46987f"/>
<rect x="763.3" y="972.5" width="2.8" height="10.2" fill="#46987f"/>
<rect x="768.8" y="974.3" width="2.8" height="8.4" fill="#b5dcd3"/>
<rect x="774.3" y="975.3" width="2.8" height="7.4" fill="#b5dcd3"/>
<rect x="779.8" y="978.6" width="2.8" height="4.1" fill="#b5dcd3"/>
<rect x="785.3" y="979.8" width="2.8" height="2.9" fill="#b5dcd3"/>
<rect x="790.8" y="978.9" width="2.8" height="3.8" fill="#46987f"/>
<rect x="796.3" y="976.7" width="2.8" height="6.0" fill="#46987f"/>
<rect x="801.8" y="973.1" width="2.8" height="9.6" fill="#46987f"/>
<rect x="807.4" y="973.3" width="2.8" height="9.4" fill="#b5dcd3"/>
<rect x="812.9" y="969.6" width="2.8" height="13.1" fill="#46987f"/>
<rect x="818.4" y="960.9" width="2.8" height="21.8" fill="#46987f"/>
<rect x="823.9" y="956.9" width="2.8" height="25.8" fill="#46987f"/>
<rect x="829.4" y="954.0" width="2.8" height="28.7" fill="#46987f"/>
<rect x="834.9" y="954.0" width="2.8" height="28.7" fill="#46987f"/>
<rect x="840.4" y="956.0" width="2.8" height="26.7" fill="#b5dcd3"/>
<rect x="845.9" y="962.1" width="2.8" height="20.6" fill="#b5dcd3"/>
<rect x="851.4" y="966.0" width="2.8" height="16.7" fill="#b5dcd3"/>
<rect x="856.9" y="968.3" width="2.8" height="14.4" fill="#b5dcd3"/>
<rect x="862.4" y="973.3" width="2.8" height="9.4" fill="#b5dcd3"/>
<rect x="867.9" y="975.4" width="2.8" height="7.3" fill="#b5dcd3"/>
<rect x="873.4" y="977.7" width="2.8" height="5.0" fill="#b5dcd3"/>
<rect x="878.9" y="976.7" width="2.8" height="6.0" fill="#46987f"/>
<rect x="884.4" y="975.6" width="2.8" height="7.1" fill="#46987f"/>
<rect x="889.9" y="976.2" width="2.8" height="6.5" fill="#b5dcd3"/>
<rect x="895.4" y="975.5" width="2.8" height="7.2" fill="#46987f"/>
<rect x="901.0" y="975.9" width="2.8" height="6.8" fill="#b5dcd3"/>
<rect x="906.5" y="975.5" width="2.8" height="7.2" fill="#46987f"/>
<rect x="912.0" y="978.0" width="2.8" height="4.7" fill="#b5dcd3"/>
<rect x="917.5" y="979.7" width="2.8" height="3.0" fill="#b5dcd3"/>
<rect x="923.0" y="980.2" width="2.8" height="2.5" fill="#b5dcd3"/>
<rect x="928.5" y="979.6" width="2.8" height="3.1" fill="#46987f"/>
<rect x="934.0" y="982.7" width="2.8" height="1.8" fill="#ef5350"/>
<rect x="939.5" y="982.7" width="2.8" height="3.5" fill="#ef5350"/>
<rect x="945.0" y="982.7" width="2.8" height="6.0" fill="#ef5350"/>
<rect x="950.5" y="982.7" width="2.8" height="8.7" fill="#ef5350"/>
<rect x="956.0" y="982.7" width="2.8" height="11.5" fill="#ef5350"/>
<rect x="961.5" y="982.7" width="2.8" height="12.4" fill="#ef5350"/>
<rect x="967.0" y="982.7" width="2.8" height="13.0" fill="#ef5350"/>
<rect x="972.5" y="982.7" width="2.8" height="9.6" fill="#f9cdd2"/>
<rect x="978.0" y="982.7" width="2.8" height="10.4" fill="#ef5350"/>
<rect x="983.5" y="982.7" width="2.8" height="12.1" fill="#ef5350"/>
<rect x="989.1" y="982.7" width="2.8" height="12.2" fill="#ef5350"/>
<rect x="994.6" y="982.7" width="2.8" height="8.0" fill="#f9cdd2"/>
<rect x="1000.1" y="982.7" width="2.8" height="3.8" fill="#f9cdd2"/>
<rect x="1005.6" y="982.7" width="2.8" height="2.1" fill="#f9cdd2"/>
<rect x="1011.1" y="982.7" width="2.8" height="2.6" fill="#ef5350"/>
<rect x="1016.6" y="982.7" width="2.8" height="10.0" fill="#ef5350"/>
<rect x="1022.1" y="982.7" width="2.8" height="12.8" fill="#ef5350"/>
<rect x="1027.6" y="982.7" width="2.8" height="13.2" fill="#ef5350"/>
<rect x="1033.1" y="982.7" width="2.8" height="12.1" fill="#f9cdd2"/>
<rect x="1038.6" y="982.7" width="2.8" height="12.7" fill="#ef5350"/>
<rect x="1044.1" y="982.7" width="2.8" height="11.2" fill="#f9cdd2"/>
<rect x="1049.6" y="982.7" width="2.8" height="10.1" fill="#f9cdd2"/>
<rect x="1055.1" y="982.7" width="2.8" height="11.6" fill="#ef5350"/>
<rect x="1060.6" y="982.7" width="2.8" height="8.6" fill="#f9cdd2"/>
<rect x="1066.1" y="982.7" width="2.8" height="5.4" fill="#f9cdd2"/>
<rect x="1071.6" y="982.7" width="2.8" height="4.2" fill="#f9cdd2"/>
<rect x="1077.1" y="982.7" width="2.8" height="1.6" fill="#f9cdd2"/>
<rect x="1082.7" y="982.6" width="2.8" height="0.1" fill="#46987f"/>
<rect x="1088.2" y="981.8" width="2.8" height="0.9" fill="#46987f"/>
<rect x="1093.7" y="980.2" width="2.8" height="2.5" fill="#46987f"/>
<rect x="1099.2" y="979.5" width="2.8" height="3.2" fill="#46987f"/>
<rect x="1104.7" y="980.5" width="2.8" height="2.2" fill="#b5dcd3"/>
<rect x="1110.2" y="982.7" width="2.8" height="0.2" fill="#ef5350"/>
<rect x="1115.7" y="982.7" width="2.8" height="2.4" fill="#ef5350"/>
<rect x="1121.2" y="982.7" width="2.8" height="1.9" fill="#f9cdd2"/>
<rect x="1126.7" y="981.8" width="2.8" height="0.9" fill="#46987f"/>
<rect x="1132.2" y="979.7" width="2.8" height="3.0" fill="#46987f"/>
<rect x="1137.7" y="978.4" width="2.8" height="4.3" fill="#46987f"/>
<rect x="1143.2" y="980.0" width="2.8" height="2.7" fill="#b5dcd3"/>
<rect x="1148.7" y="982.7" width="2.8" height="1.4" fill="#ef5350"/>
<rect x="1154.2" y="982.7" width="2.8" height="4.3" fill="#ef5350"/>
<rect x="1159.7" y="982.7" width="2.8" height="4.0" fill="#f9cdd2"/>
<rect x="1165.2" y="982.7" width="2.8" height="3.2" fill="#f9cdd2"/>
<rect x="1170.7" y="982.7" width="2.8" height="1.0" fill="#f9cdd2"/>
<rect x="1176.3" y="979.9" width="2.8" height="2.8" fill="#46987f"/>
<rect x="1181.8" y="975.8" width="2.8" height="6.9" fill="#46987f"/>
<rect x="1187.3" y="973.5" width="2.8" height="9.2" fill="#46987f"/>
<rect x="1192.8" y="973.4" width="2.8" height="9.3" fill="#46987f"/>
<rect x="1198.3" y="974.4" width="2.8" height="8.3" fill="#b5dcd3"/>
<rect x="1203.8" y="975.5" width="2.8" height="7.2" fill="#b5dcd3"/>
<rect x="1209.3" y="979.5" width="2.8" height="3.2" fill="#b5dcd3"/>
<rect x="1214.8" y="982.7" width="2.8" height="2.7" fill="#ef5350"/>
<rect x="1220.3" y="982.7" width="2.8" height="2.4" fill="#f9cdd2"/>
<rect x="1225.8" y="981.9" width="2.8" height="0.8" fill="#46987f"/>
<rect x="1231.3" y="980.1" width="2.8" height="2.6" fill="#46987f"/>
<rect x="1236.8" y="978.7" width="2.8" height="4.0" fill="#46987f"/>
<rect x="1242.3" y="978.4" width="2.8" height="4.3" fill="#46987f"/>
<rect x="1247.8" y="982.7" width="2.8" height="0.9" fill="#ef5350"/>
<rect x="1253.3" y="982.7" width="2.8" height="4.2" fill="#ef5350"/>
<rect x="1258.8" y="982.7" width="2.8" height="7.9" fill="#ef5350"/>
<rect x="1264.3" y="982.7" width="2.8" height="13.3" fill="#ef5350"/>
<rect x="1269.9" y="982.7" width="2.8" height="18.2" fill="#ef5350"/>
<rect x="1275.4" y="982.7" width="2.8" height="19.3" fill="#ef5350"/>
<rect x="1280.9" y="982.7" width="2.8" height="17.3" fill="#f9cdd2"/>
<rect x="1286.4" y="982.7" width="2.8" height="14.9" fill="#f9cdd2"/>
<rect x="1291.9" y="982.7" width="2.8" height="12.5" fill="#f9cdd2"/>
<rect x="1297.4" y="982.7" width="2.8" height="9.6" fill="#f9cdd2"/>
<rect x="1302.9" y="982.7" width="2.8" height="7.5" fill="#f9cdd2"/>
<rect x="1308.4" y="982.7" width="2.8" height="5.6" fill="#f9cdd2"/>
<rect x="1313.9" y="982.7" width="2.8" height="2.9" fill="#f9cdd2"/>
<rect x="1319.4" y="982.4" width="2.8" height="0.3" fill="#46987f"/>
<rect x="1324.9" y="978.9" width="2.8" height="3.8" fill="#46987f"/>
<rect x="1330.4" y="975.8" width="2.8" height="6.9" fill="#46987f"/>
<rect x="1335.9" y="973.7" width="2.8" height="9.0" fill="#46987f"/>
<rect x="1341.4" y="969.1" width="2.8" height="13.6" fill="#46987f"/>
<rect x="1346.9" y="967.2" width="2.8" height="15.5" fill="#46987f"/>
<rect x="1352.4" y="968.0" width="2.8" height="14.7" fill="#b5dcd3"/>
<rect x="1358.0" y="967.7" width="2.8" height="15.0" fill="#46987f"/>
<rect x="1363.5" y="968.3" width="2.8" height="14.4" fill="#b5dcd3"/>
<rect x="1369.0" y="969.6" width="2.8" height="13.1" fill="#b5dcd3"/>
<rect x="1374.5" y="970.4" width="2.8" height="12.3" fill="#b5dcd3"/>
<rect x="1380.0" y="967.6" width="2.8" height="15.1" fill="#46987f"/>
<rect x="1385.5" y="966.5" width="2.8" height="16.2" fill="#46987f"/>
<rect x="1391.0" y="967.2" width="2.8" height="15.5" fill="#b5dcd3"/>
<rect x="1396.5" y="969.3" width="2.8" height="13.4" fill="#b5dcd3"/>
<rect x="1402.0" y="971.8" width="2.8" height="10.9" fill="#b5dcd3"/>
<rect x="1407.5" y="974.4" width="2.8" height="8.3" fill="#b5dcd3"/>
<rect x="1413.0" y="974.7" width="2.8" height="8.0" fill="#b5dcd3"/>
<rect x="1418.5" y="973.0" width="2.8" height="9.7" fill="#46987f"/>
<rect x="1424.0" y="974.4" width="2.8" height="8.3" fill="#b5dcd3"/>
<rect x="1429.5" y="975.0" width="2.8" height="7.7" fill="#b5dcd3"/>
<rect x="1435.0" y="976.9" width="2.8" height="5.8" fill="#b5dcd3"/>
<rect x="1440.5" y="978.6" width="2.8" height="4.1" fill="#b5dcd3"/>
<rect x="1446.0" y="975.7" width="2.8" height="7.0" fill="#46987f"/>
<rect x="1451.6" y="975.6" width="2.8" height="7.1" fill="#46987f"/>
<rect x="1457.1" y="976.5" width="2.8" height="6.2" fill="#b5dcd3"/>
<rect x="1462.6" y="977.2" width="2.8" height="5.5" fill="#b5dcd3"/>
<rect x="1468.1" y="978.6" width="2.8" height="4.1" fill="#b5dcd3"/>
<rect x="1473.6" y="979.7" width="2.8" height="3.0" fill="#b5dcd3"/>
<rect x="1479.1" y="980.7" width="2.8" height="2.0" fill="#b5dcd3"/>
<rect x="1484.6" y="981.9" width="2.8" height="0.8" fill="#b5dcd3"/>
<rect x="1490.1" y="982.7" width="2.8" height="2.1" fill="#ef5350"/>
<rect x="1495.6" y="982.7" width="2.8" height="4.3" fill="#ef5350"/>
<rect x="1501.1" y="982.7" width="2.8" height="5.0" fill="#ef5350"/>
<rect x="1506.6" y="982.7" width="2.8" height="3.6" fill="#f9cdd2"/>
<rect x="1512.1" y="982.7" width="2.8" height="4.6" fill="#ef5350"/>
<rect x="1517.6" y="982.7" width="2.8" height="4.6" fill="#ef5350"/>
<rect x="1523.1" y="982.7" width="2.8" height="5.5" fill="#ef5350"/>
<rect x="1528.6" y="982.7" width="2.8" height="6.6" fill="#ef5350"/>
<rect x="1534.1" y="982.7" width="2.8" height="6.9" fill="#ef5350"/>
<rect x="1539.6" y="982.7" width="2.8" height="5.8" fill="#f9cdd2"/>
<rect x="1545.2" y="982.7" width="2.8" height="6.5" fill="#ef5350"/>
<rect x="1550.7" y="982.7" width="2.8" height="5.7" fill="#f9cdd2"/>
<rect x="1556.2" y="982.7" width="2.8" height="4.9" fill="#f9cdd2"/>
<rect x="1561.7" y="982.7" width="2.8" height="4.1" fill="#f9cdd2"/>
<rect x="1567.2" y="982.7" width="2.8" height="3.8" fill="#f9cdd2"/>
<rect x="1572.7" y="982.7" width="2.8" height="2.5" fill="#f9cdd2"/>
<rect x="1578.2" y="982.7" width="2.8" height="1.4" fill="#f9cdd2"/>
<rect x="1583.7" y="982.7" width="2.8" height="3.1" fill="#ef5350"/>
<rect x="1589.2" y="982.7" width="2.8" height="10.1" fill="#ef5350"/>
<rect x="1594.7" y="982.7" width="2.8" height="13.4" fill="#ef5350"/>
<line x1="-1.9" y1="982.9000000000001" x2="1988" y2="982.9000000000001" stroke="#9598a1" stroke-opacity="0.75" stroke-width="2.2" stroke-dasharray="9.7 12.3"/>
<polyline points="-0.6,1039.0 4.9,1034.2 10.4,1039.2 15.9,1041.8 21.4,1039.3 26.9,1036.9 32.4,1033.6 37.9,1031.4 43.4,1027.4 48.9,1026.5 54.4,1027.1 59.9,1029.2 65.4,1031.0 70.9,1030.7 76.5,1029.5 82.0,1027.1 87.5,1033.3 93.0,1038.0 98.5,1040.1 104.0,1041.0 109.5,1050.4 115.0,1053.2 120.5,1053.0 126.0,1052.5 131.5,1051.2 137.0,1047.5 142.5,1042.9 148.0,1039.1 153.5,1034.6 159.0,1030.2 164.6,1025.2 170.1,1020.7 175.6,1018.4 181.1,1012.0 186.6,1003.8 192.1,997.0 197.6,992.5 203.1,986.3 208.6,978.9 214.1,974.6 219.6,970.8 225.1,967.6 230.6,965.7 236.1,967.4 241.6,970.8 247.1,973.5 252.6,967.7 258.2,964.8 263.7,969.6 269.2,973.8 274.7,979.0 280.2,984.1 285.7,986.8 291.2,990.8 296.7,994.0 302.2,994.4 307.7,992.9 313.2,992.1 318.7,989.2 324.2,987.4 329.7,986.0 335.2,985.6 340.7,983.3 346.2,981.6 351.8,981.8 357.3,980.0 362.8,978.0 368.3,976.3 373.8,975.5 379.3,974.7 384.8,974.7 390.3,974.4 395.8,975.3 401.3,977.4 406.8,977.6 412.3,972.7 417.8,969.2 423.3,967.8 428.8,963.5 434.3,959.7 439.9,956.1 445.4,955.9 450.9,956.6 456.4,957.5 461.9,960.7 467.4,964.8 472.9,966.4 478.4,968.4 483.9,971.1 489.4,975.7 494.9,982.6 500.4,988.3 505.9,991.2 511.4,993.1 516.9,997.7 522.4,998.9 527.9,1000.3 533.5,1000.1 539.0,1000.8 544.5,1004.9 550.0,1014.8 555.5,1024.0 561.0,1027.4 566.5,1027.9 572.0,1027.5 577.5,1025.6 583.0,1023.8 588.5,1020.3 594.0,1017.6 599.5,1015.3 605.0,1012.4 610.5,1009.8 616.0,1008.5 621.5,1006.9 627.1,1003.7 632.6,1002.9 638.1,999.6 643.6,997.8 649.1,1000.2 654.6,1002.0 660.1,999.8 665.6,1007.8 671.1,1015.1 676.6,1019.4 682.1,1028.6 687.6,1034.5 693.1,1039.1 698.6,1039.4 704.1,1045.3 709.6,1047.4 715.1,1049.8 720.7,1055.6 726.2,1055.5 731.7,1052.8 737.2,1049.1 742.7,1046.3 748.2,1041.2 753.7,1036.8 759.2,1032.2 764.7,1028.3 770.2,1028.0 775.7,1027.2 781.2,1029.4 786.7,1029.9 792.2,1028.1 797.7,1024.3 803.2,1018.3 808.8,1016.2 814.3,1009.2 819.8,995.0 825.3,984.6 830.8,974.5 836.3,967.3 841.8,962.6 847.3,963.6 852.8,963.4 858.3,962.1 863.8,964.7 869.3,965.0 874.8,966.0 880.3,963.6 885.8,960.7 891.3,959.6 896.8,957.1 902.4,955.9 907.9,953.6 913.4,954.9 918.9,955.9 924.4,955.8 929.9,954.4 935.4,959.7 940.9,962.3 946.4,966.4 951.9,971.2 957.4,976.9 962.9,980.9 968.4,984.7 973.9,983.8 979.4,987.1 984.9,991.9 990.5,995.0 996.0,992.8 1001.5,989.6 1007.0,988.4 1012.5,989.6 1018.0,999.4 1023.5,1005.5 1029.0,1009.1 1034.5,1011.0 1040.0,1014.8 1045.5,1016.1 1051.0,1017.6 1056.5,1021.9 1062.0,1021.1 1067.5,1019.2 1073.0,1019.1 1078.5,1016.9 1084.1,1015.2 1089.6,1014.2 1095.1,1011.9 1100.6,1010.4 1106.1,1010.9 1111.6,1013.4 1117.1,1016.2 1122.6,1016.2 1128.1,1013.1 1133.6,1010.3 1139.1,1007.9 1144.6,1008.9 1150.1,1013.3 1155.6,1017.2 1161.1,1018.0 1166.6,1018.0 1172.1,1016.0 1177.7,1011.5 1183.2,1005.6 1188.7,1001.1 1194.2,998.6 1199.7,997.6 1205.2,996.9 1210.7,1000.1 1216.2,1006.7 1221.7,1006.9 1227.2,1003.6 1232.7,1001.1 1238.2,998.7 1243.7,997.4 1249.2,1002.7 1254.7,1007.2 1260.2,1012.9 1265.8,1021.5 1271.3,1031.0 1276.8,1036.9 1282.3,1039.2 1287.8,1040.6 1293.3,1041.2 1298.8,1040.8 1304.3,1040.5 1309.8,1040.1 1315.3,1038.1 1320.8,1034.8 1326.3,1030.3 1331.8,1025.5 1337.3,1021.1 1342.8,1013.2 1348.3,1007.4 1353.8,1004.6 1359.4,1000.4 1364.9,997.5 1370.4,995.5 1375.9,993.2 1381.4,986.7 1386.9,981.5 1392.4,978.3 1397.9,977.1 1403.4,976.8 1408.9,977.4 1414.4,975.7 1419.9,971.6 1425.4,970.9 1430.9,969.6 1436.4,970.1 1441.9,970.7 1447.4,966.1 1453.0,964.1 1458.5,963.5 1464.0,962.8 1469.5,963.2 1475.0,963.6 1480.5,964.1 1486.0,965.0 1491.5,968.5 1497.0,971.8 1502.5,973.7 1508.0,973.2 1513.5,975.3 1519.0,976.5 1524.5,978.7 1530.0,981.5 1535.5,983.6 1541.0,983.9 1546.6,986.2 1552.1,986.8 1557.6,987.3 1563.1,987.5 1568.6,988.2 1574.1,987.5 1579.6,986.8 1585.1,989.3 1590.6,998.7 1596.1,1005.3" fill="none" stroke="#2962ff" stroke-width="2" stroke-linejoin="round"/>
<polyline points="-0.6,1079.6 4.9,1070.5 10.4,1064.3 15.9,1059.8 21.4,1055.7 26.9,1051.9 32.4,1048.3 37.9,1044.9 43.4,1041.4 48.9,1038.4 54.4,1036.2 59.9,1034.8 65.4,1034.0 70.9,1033.3 76.5,1032.6 82.0,1031.5 87.5,1031.8 93.0,1033.1 98.5,1034.5 104.0,1035.8 109.5,1038.7 115.0,1041.6 120.5,1043.9 126.0,1045.6 131.5,1046.7 137.0,1046.9 142.5,1046.1 148.0,1044.7 153.5,1042.7 159.0,1040.2 164.6,1037.2 170.1,1033.9 175.6,1030.8 181.1,1027.0 186.6,1022.4 192.1,1017.3 197.6,1012.3 203.1,1007.1 208.6,1001.5 214.1,996.1 219.6,991.1 225.1,986.4 230.6,982.2 236.1,979.3 241.6,977.6 247.1,976.8 252.6,975.0 258.2,972.9 263.7,972.3 269.2,972.6 274.7,973.9 280.2,975.9 285.7,978.1 291.2,980.6 296.7,983.3 302.2,985.5 307.7,987.0 313.2,988.0 318.7,988.3 324.2,988.1 329.7,987.7 335.2,987.3 340.7,986.5 346.2,985.5 351.8,984.7 357.3,983.8 362.8,982.6 368.3,981.4 373.8,980.2 379.3,979.1 384.8,978.2 390.3,977.4 395.8,977.0 401.3,977.1 406.8,977.2 412.3,976.3 417.8,974.9 423.3,973.5 428.8,971.5 434.3,969.1 439.9,966.5 445.4,964.4 450.9,962.8 456.4,961.8 461.9,961.6 467.4,962.2 472.9,963.0 478.4,964.1 483.9,965.5 489.4,967.5 494.9,970.5 500.4,974.1 505.9,977.5 511.4,980.6 516.9,984.1 522.4,987.0 527.9,989.7 533.5,991.8 539.0,993.6 544.5,995.8 550.0,999.6 555.5,1004.5 561.0,1009.1 566.5,1012.8 572.0,1015.8 577.5,1017.7 583.0,1018.9 588.5,1019.2 594.0,1018.9 599.5,1018.2 605.0,1017.0 610.5,1015.6 616.0,1014.1 621.5,1012.7 627.1,1010.9 632.6,1009.3 638.1,1007.4 643.6,1005.4 649.1,1004.4 654.6,1003.9 660.1,1003.1 665.6,1004.0 671.1,1006.3 676.6,1008.9 682.1,1012.8 687.6,1017.1 693.1,1021.5 698.6,1025.1 704.1,1029.1 709.6,1032.8 715.1,1036.2 720.7,1040.1 726.2,1043.2 731.7,1045.1 737.2,1045.9 742.7,1046.0 748.2,1045.0 753.7,1043.4 759.2,1041.1 764.7,1038.6 770.2,1036.5 775.7,1034.6 781.2,1033.6 786.7,1032.8 792.2,1031.9 797.7,1030.4 803.2,1028.0 808.8,1025.6 814.3,1022.3 819.8,1016.9 825.3,1010.4 830.8,1003.2 836.3,996.0 841.8,989.4 847.3,984.2 852.8,980.0 858.3,976.5 863.8,974.1 869.3,972.3 874.8,971.0 880.3,969.5 885.8,967.8 891.3,966.1 896.8,964.3 902.4,962.6 907.9,960.8 913.4,959.7 918.9,958.9 924.4,958.3 929.9,957.5 935.4,957.9 940.9,958.8 946.4,960.3 951.9,962.5 957.4,965.4 962.9,968.5 968.4,971.7 973.9,974.1 979.4,976.7 984.9,979.8 990.5,982.8 996.0,984.8 1001.5,985.8 1007.0,986.3 1012.5,986.9 1018.0,989.4 1023.5,992.6 1029.0,995.9 1034.5,998.9 1040.0,1002.1 1045.5,1004.9 1051.0,1007.4 1056.5,1010.3 1062.0,1012.5 1067.5,1013.8 1073.0,1014.9 1078.5,1015.3 1084.1,1015.3 1089.6,1015.1 1095.1,1014.4 1100.6,1013.6 1106.1,1013.1 1111.6,1013.1 1117.1,1013.7 1122.6,1014.2 1128.1,1014.0 1133.6,1013.3 1139.1,1012.2 1144.6,1011.5 1150.1,1011.9 1155.6,1013.0 1161.1,1014.0 1166.6,1014.8 1172.1,1015.0 1177.7,1014.3 1183.2,1012.6 1188.7,1010.3 1194.2,1007.9 1199.7,1005.9 1205.2,1004.1 1210.7,1003.3 1216.2,1004.0 1221.7,1004.6 1227.2,1004.4 1232.7,1003.7 1238.2,1002.7 1243.7,1001.6 1249.2,1001.9 1254.7,1002.9 1260.2,1004.9 1265.8,1008.2 1271.3,1012.8 1276.8,1017.6 1282.3,1021.9 1287.8,1025.7 1293.3,1028.8 1298.8,1031.2 1304.3,1033.0 1309.8,1034.4 1315.3,1035.2 1320.8,1035.1 1326.3,1034.1 1331.8,1032.4 1337.3,1030.1 1342.8,1026.8 1348.3,1022.9 1353.8,1019.2 1359.4,1015.5 1364.9,1011.9 1370.4,1008.6 1375.9,1005.5 1381.4,1001.7 1386.9,997.7 1392.4,993.8 1397.9,990.5 1403.4,987.7 1408.9,985.7 1414.4,983.7 1419.9,981.3 1425.4,979.2 1430.9,977.3 1436.4,975.8 1441.9,974.8 1447.4,973.1 1453.0,971.3 1458.5,969.7 1464.0,968.3 1469.5,967.3 1475.0,966.6 1480.5,966.1 1486.0,965.9 1491.5,966.4 1497.0,967.5 1502.5,968.7 1508.0,969.6 1513.5,970.8 1519.0,971.9 1524.5,973.3 1530.0,974.9 1535.5,976.7 1541.0,978.1 1546.6,979.7 1552.1,981.1 1557.6,982.4 1563.1,983.4 1568.6,984.3 1574.1,985.0 1579.6,985.3 1585.1,986.1 1590.6,988.6 1596.1,992.0" fill="none" stroke="#f57c20" stroke-width="2" stroke-linejoin="round"/>
</g>
<!-- price axis labels -->
<g font-size="24" fill="#131722" letter-spacing="1.42">
<text x="2017" y="100.2">0.2100</text>
<text x="2017" y="176.2">0.2000</text>
<text x="2017" y="257.6">0.1900</text>
<text x="2017" y="342.2">0.1800</text>
<text x="2017" y="431.2">0.1700</text>
<text x="2017" y="628.2">0.1500</text>
<text x="2017" y="692.6">0.1440</text>
<text x="2017" y="829.6">0.1320</text>
<text x="2017" y="889.6">0.1270</text>
<text x="2017" y="991.6">0.0000</text>
</g>
<!-- black labels -->
<path d="M2000,173.3 H2106.5 a3.5,3.5 0 0 1 3.5,3.5 V202.8 a3.5,3.5 0 0 1 -3.5,3.5 H2000 Z" fill="#000"/>
<path d="M2000,336.3 H2106.5 a3.5,3.5 0 0 1 3.5,3.5 V365.8 a3.5,3.5 0 0 1 -3.5,3.5 H2000 Z" fill="#000"/>
<path d="M2000,499 H2106.5 a3.5,3.5 0 0 1 3.5,3.5 V529.3 a3.5,3.5 0 0 1 -3.5,3.5 H2000 Z" fill="#6aae5d"/>
<g font-size="24" fill="#fff" letter-spacing="1.42">
<text x="2017" y="198.4">0.1973</text>
<text x="2017" y="361.4">0.1778</text>
<text x="2017" y="524.5">0.1602</text>
</g>
<!-- countdown + current price -->
<path d="M2000,734 H2128 a4,4 0 0 1 4,4 V792 a4,4 0 0 1 -4,4 H2000 Z" fill="#46987f"/>
<text x="2017" y="787" font-size="24" fill="#fff" fill-opacity="0.72" letter-spacing="1.33">01:47:35</text>
<path d="M1960,717 H1997.6 V759 H1960 a4,4 0 0 1 -4,-4 V721 a4,4 0 0 1 4,-4 Z" fill="#131722"/>
<path d="M2000,717 H2106 a4,4 0 0 1 4,4 V755 a4,4 0 0 1 -4,4 H2000 Z" fill="#131722"/>
<circle cx="1977" cy="738" r="14" fill="none" stroke="#fff" stroke-width="2.2"/>
<path d="M1969,738 H1985 M1977,730 V746" stroke="#fff" stroke-width="2.2" fill="none"/>
<text x="2017" y="746.6" font-size="24" fill="#fff" letter-spacing="1.42">0.1391</text>

<!-- header -->
<circle cx="34" cy="29.9" r="18" fill="#bda845"/>
<path d="M29.4,16.1 L30.9,19.6 L36.5,20.1 L40.4,17.2 L41.3,21 L42,27 L43.8,33 L43.6,39 L40,41.2 L34,42 L30,41 L24.5,38 L25.600,33.500 L24,28 L25,23.500 L27.500,20 Z" fill="#dca95c"/>
<path d="M24.5,38 L25.600,33.500 L31,33.200 L36,32 L39.500,29.500 L42.500,33 L42.800,38.500 L40,41.200 L34,42 L30,41 Z" fill="#ecd48e"/>
<path d="M24.1,28 L25,23.800 L28,22.400 L31,23.800 L31.600,28 L31,32.200 L27,32.800 L25.300,31.500 Z" fill="#f6e9bd"/>
<path d="M32,25.800 L39.300,25 L40,29 L36,32 L32,31.200 Z" fill="#fbf0cb"/>
<path d="M30,36 L33,34.500 L36.500,36 L41,33 L40,38 L34,40.500 Z" fill="#f3e2a6"/>
<ellipse cx="27.600" cy="27.600" rx="1.500" ry="1.800" fill="#1a1408"/>
<ellipse cx="28.300" cy="23.600" rx="0.800" ry="0.700" fill="#1a1408"/>
<ellipse cx="33.500" cy="24.800" rx="1.400" ry="0.800" fill="#3a3320"/>
<path d="M26.800,30 L30.500,30.600" stroke="#3a3320" stroke-width="0.700" fill="none"/>
<g font-size="30.5" fill="#131722">
<text x="60.7" y="41.7" textLength="138" lengthAdjust="spacing">Dogecoin</text>
<text x="208.3" y="41.7">/</text>
<text x="225" y="41.7" textLength="42.3" lengthAdjust="spacing">US</text>
<text x="275.7" y="41.7" textLength="83.5" lengthAdjust="spacing">Dollar</text>
<text x="366.2" y="41.7">·</text>
<text x="385" y="41.7" textLength="36.6" lengthAdjust="spacing">4h</text>
<text x="428.9" y="41.7">·</text>
</g>
<rect x="446.3" y="38.2" width="2" height="2" fill="#d9dbe0"/>
<rect x="16" y="62" width="54.6" height="38.6" rx="5.5" fill="#fff" stroke="#d9dbe0" stroke-width="2.4"/>
<path d="M37,78 L43.3,83.6 L49.600,78" fill="none" stroke="#131722" stroke-width="3" stroke-linecap="round" stroke-linejoin="round"/>

<rect x="1887.6" y="7.2" width="45.2" height="45.4" rx="8.5" fill="#fff" stroke="#ebecef" stroke-width="2.4"/>
<rect x="1943.6" y="7.2" width="45.2" height="45.4" rx="8.5" fill="#fff" stroke="#ebecef" stroke-width="2.4"/>
<rect x="2007.6" y="7.2" width="124.8" height="49.200" rx="9" fill="#fff" stroke="#ebecef" stroke-width="2.4"/>
<path d="M1910,22 V38.6 M1902.8,31.2 L1910,38.6 L1917.2,31.2" fill="none" stroke="#131722" stroke-width="2.4" stroke-linecap="round" stroke-linejoin="round"/>
<path d="M1956,27 V24.5 a4.5,4.5 0 0 1 4.500,-4.500 H1971.500 a4.500,4.500 0 0 1 4.500,4.500 V27 M1956,33 V35.500 a4.500,4.500 0 0 0 4.500,4.500 H1971.500 a4.500,4.500 0 0 0 4.500,-4.500 V33" fill="none" stroke="#131722" stroke-width="2.4" stroke-linecap="round"/>
<text x="2014" y="40.7" font-size="23.5" fill="#131722" letter-spacing="0.8">USD</text>
<path d="M2114.8,30.6 L2119.1,34.8 L2123.4,30.6" fill="none" stroke="#131722" stroke-width="2.6" stroke-linecap="round" stroke-linejoin="round"/>

<!-- time axis -->
<g font-size="24" fill="#131722" text-anchor="middle" letter-spacing="1.3">
<text x="105.8" y="1106">17</text>
<text x="237.8" y="1106">21</text>
<text x="369.8" y="1106">25</text>
<text x="600" y="1106" font-weight="bold" letter-spacing="0">Nov</text>
<text x="732.6" y="1106">5</text>
<text x="864.6" y="1106">9</text>
<text x="996.8" y="1106">13</text>
<text x="1128.8" y="1106">17</text>
<text x="1260.8" y="1106">21</text>
<text x="1392.8" y="1106">25</text>
<text x="1591" y="1106" font-weight="bold" letter-spacing="0">Dec</text>
</g>
<rect x="1693" y="1068" width="305" height="46" fill="#131722"/>
<text x="1712" y="1105" font-size="24" fill="#fff" letter-spacing="0.92" xml:space="preserve" style="white-space:pre">Wed 10 Dec '25   10:00</text>
<path d="M2058.4,1096.9 L2064.8,1086.2 L2077.6,1086.2 L2084.0,1096.9 L2077.6,1107.6 L2064.8,1107.6 Z" fill="none" stroke="#131722" stroke-width="2.2" stroke-linejoin="round"/>
<circle cx="2071.2" cy="1096.9" r="4.2" fill="none" stroke="#131722" stroke-width="2.2"/>
<!-- TradingView logo -->
<g stroke="#fff" stroke-width="5" stroke-linejoin="round" paint-order="stroke" fill="#131313">
<path d="M22,1010 H46.5 V1039 H31.5 V1023.5 H22 Z"/>
<circle cx="55.500" cy="1016.500" r="6.300"/>
<path d="M67,1010 H81.500 L69.500,1039 H55 Z"/>
<text x="95.800" y="1039" font-size="40.500" font-weight="bold" textLength="241.500" lengthAdjust="spacing" stroke-width="6">TradingView</text>
<text x="95.800" y="1039" font-size="40.500" font-weight="bold" textLength="241.500" lengthAdjust="spacing" stroke="#131313" stroke-width="0.7">TradingView</text>
</g>
<!-- flags -->
<defs>
<clipPath id="fc"><circle cx="0" cy="0" r="16.1"/></clipPath>
<g id="flag">
<circle cx="0" cy="0" r="20.55" fill="#fff" stroke="#e0454b" stroke-width="2.7"/>
<g clip-path="url(#fc)">
<rect x="-17" y="-17" width="34" height="34" fill="#f8f8fc"/>
<rect x="-17" y="-17" width="34" height="7.900" fill="#dd5d56"/>
<rect x="-17" y="-3.500" width="34" height="7.300" fill="#dd5d56"/>
<rect x="-17" y="8.900" width="34" height="8" fill="#dd5d56"/>
<rect x="-17" y="-17" width="20.500" height="20.800" fill="#3e82e2"/>
<g fill="#fff"><path transform="translate(-6.2 -11.7)" d="M0,-2.3 L0.6,-0.75 L2.2,-0.7 L0.95,0.3 L1.4,1.9 L0,1 L-1.4,1.9 L-0.95,0.3 L-2.2,-0.7 L-0.6,-0.75 Z"/><path transform="translate(-0.8 -11.7)" d="M0,-2.3 L0.6,-0.75 L2.2,-0.7 L0.95,0.3 L1.4,1.9 L0,1 L-1.4,1.9 L-0.95,0.3 L-2.2,-0.7 L-0.6,-0.75 Z"/><path transform="translate(-11.5 -6.4)" d="M0,-2.3 L0.6,-0.75 L2.2,-0.7 L0.95,0.3 L1.4,1.9 L0,1 L-1.4,1.9 L-0.95,0.3 L-2.2,-0.7 L-0.6,-0.75 Z"/><path transform="translate(-6.2 -6.4)" d="M0,-2.3 L0.6,-0.75 L2.2,-0.7 L0.95,0.3 L1.4,1.9 L0,1 L-1.4,1.9 L-0.95,0.3 L-2.2,-0.7 L-0.6,-0.75 Z"/><path transform="translate(-0.8 -6.4)" d="M0,-2.3 L0.6,-0.75 L2.2,-0.7 L0.95,0.3 L1.4,1.9 L0,1 L-1.4,1.9 L-0.95,0.3 L-2.2,-0.7 L-0.6,-0.75 Z"/><path transform="translate(-11.5 -1.1)" d="M0,-2.3 L0.6,-0.75 L2.2,-0.7 L0.95,0.3 L1.4,1.9 L0,1 L-1.4,1.9 L-0.95,0.3 L-2.2,-0.7 L-0.6,-0.75 Z"/><path transform="translate(-6.2 -1.1)" d="M0,-2.3 L0.6,-0.75 L2.2,-0.7 L0.95,0.3 L1.4,1.9 L0,1 L-1.4,1.9 L-0.95,0.3 L-2.2,-0.7 L-0.6,-0.75 Z"/><path transform="translate(-0.8 -1.1)" d="M0,-2.3 L0.6,-0.75 L2.2,-0.7 L0.95,0.3 L1.4,1.9 L0,1 L-1.4,1.9 L-0.95,0.3 L-2.2,-0.7 L-0.6,-0.75 Z"/></g>
</g>
</g>
</defs>
<use href="#flag" x="1607" y="913"/>
<use href="#flag" x="1673" y="913"/>
<use href="#flag" x="1739" y="913"/>

</svg>
</body></html>
